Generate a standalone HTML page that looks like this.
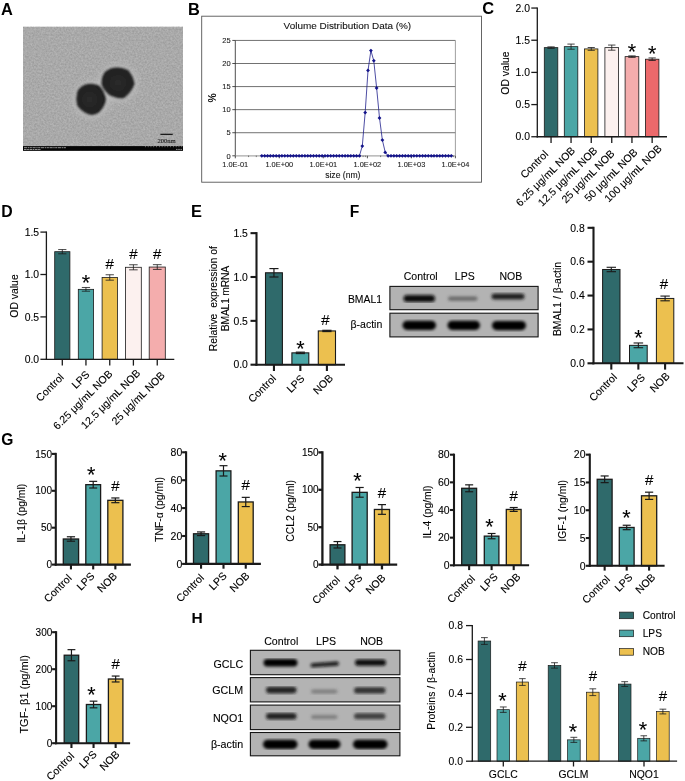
<!DOCTYPE html>
<html lang="en">
<head>
<meta charset="utf-8">
<title>Figure</title>
<style>
html,body{margin:0;padding:0;background:#fff;}
body{width:685px;height:781px;overflow:hidden;}
svg{display:block;font-family:"Liberation Sans", sans-serif;}
</style>
</head>
<body>
<svg width="685" height="781" viewBox="0 0 685 781">
<defs>
<filter id="noise" x="0" y="0" width="100%" height="100%" color-interpolation-filters="sRGB">
<feTurbulence type="fractalNoise" baseFrequency="0.55" numOctaves="2" seed="7" result="n"/>
<feColorMatrix in="n" type="matrix" values="1 0 0 0 0  1 0 0 0 0  1 0 0 0 0  0 0 0 0 1" result="g"/>
<feComposite in="SourceGraphic" in2="g" operator="arithmetic" k1="0" k2="1" k3="0.16" k4="-0.08"/>
</filter>
<filter id="blur1" x="-20%" y="-20%" width="140%" height="140%"><feGaussianBlur stdDeviation="0.9"/></filter>
<radialGradient id="pg1" cx="0.45" cy="0.5" r="0.6"><stop offset="0" stop-color="#2b2b2b"/><stop offset="0.6" stop-color="#222"/><stop offset="1" stop-color="#1b1b1b"/></radialGradient>
<radialGradient id="pg2" cx="0.5" cy="0.5" r="0.6"><stop offset="0" stop-color="#2b2b2b"/><stop offset="0.6" stop-color="#222"/><stop offset="1" stop-color="#1b1b1b"/></radialGradient>
<filter id="blur2" x="-30%" y="-30%" width="160%" height="160%"><feGaussianBlur stdDeviation="3"/></filter>
<filter id="blurband" x="-10%" y="-10%" width="120%" height="120%"><feGaussianBlur stdDeviation="1.35"/></filter>
</defs>
<rect x="0" y="0" width="685" height="781" fill="#ffffff"/>
<text x="1.00" y="14.80" font-size="16.4" text-anchor="start" font-weight="bold" fill="#000">A</text>
<text x="187.90" y="14.60" font-size="16.4" text-anchor="start" font-weight="bold" fill="#000">B</text>
<text x="482.20" y="14.30" font-size="16.4" text-anchor="start" font-weight="bold" fill="#000">C</text>
<text x="1.20" y="217.20" font-size="15.8" text-anchor="start" font-weight="bold" fill="#000">D</text>
<text x="191.00" y="217.00" font-size="16.4" text-anchor="start" font-weight="bold" fill="#000">E</text>
<text x="349.80" y="217.00" font-size="15.6" text-anchor="start" font-weight="bold" fill="#000">F</text>
<text x="1.30" y="444.50" font-size="15.6" text-anchor="start" font-weight="bold" fill="#000">G</text>
<text x="191.40" y="622.50" font-size="15.5" text-anchor="start" font-weight="bold" fill="#000">H</text>
<g id="panelA">
<rect x="23.00" y="26.90" width="160.00" height="123.80" fill="#a9a9a9" filter="url(#noise)"/>
<g filter="url(#blur2)">
<ellipse cx="91.2" cy="99.4" rx="17.5" ry="18" fill="#bdbdbd"/>
<ellipse cx="118" cy="83" rx="19" ry="18" fill="#bdbdbd"/>
</g>
<g filter="url(#blur1)">
<path d="M77,93 Q78,88 84,85 Q92,82.5 99,85.5 Q104,90 106,99 Q105.5,106 99,112.5 Q94,116 89,114.5 Q80,111 77,105 Q75.5,99 77,93 Z" fill="url(#pg1)"/>
<path d="M102,78 Q104,70 112,68 Q120,66.5 128,70 Q133.5,76 134.5,84 Q132,92 124,98 Q118,99 110,95.5 Q103,90 101.5,84 Z" fill="url(#pg2)"/>
</g>
<rect x="23.00" y="146.10" width="160.00" height="4.70" fill="#050505"/>
<line x1="145" y1="146.7" x2="183" y2="146.7" stroke="#ddd" stroke-width="0.7" stroke-dasharray="0.7 2.1"/>
<line x1="160.40" y1="134.30" x2="172.70" y2="134.30" stroke="#000" stroke-width="1.1" stroke-linecap="butt"/>
<text x="166.60" y="142.70" font-size="6.6" text-anchor="middle" font-weight="normal" fill="#1a1a1a" stroke="#1a1a1a" stroke-width="0.1" font-family='"Liberation Serif", serif'>200nm</text>
<line x1="24" y1="147.7" x2="66" y2="147.7" stroke="#cfcfcf" stroke-width="0.7" stroke-dasharray="3.2 0.6 1.4 0.5 2.2 0.6"/>
<line x1="24" y1="149.5" x2="41" y2="149.5" stroke="#cfcfcf" stroke-width="0.7" stroke-dasharray="2.6 0.5 1.8 0.6"/>
<line x1="176" y1="149.4" x2="182" y2="149.4" stroke="#cfcfcf" stroke-width="0.7" stroke-dasharray="1.2 0.4"/>
</g>
<g id="panelB">
<rect x="201.70" y="16.20" width="279.80" height="166.00" fill="#fff" stroke="#555" stroke-width="0.9"/>
<line x1="235.30" y1="132.73" x2="455.40" y2="132.73" stroke="#333" stroke-width="0.7" stroke-linecap="butt"/>
<line x1="235.30" y1="109.65" x2="455.40" y2="109.65" stroke="#333" stroke-width="0.7" stroke-linecap="butt"/>
<line x1="235.30" y1="86.58" x2="455.40" y2="86.58" stroke="#333" stroke-width="0.7" stroke-linecap="butt"/>
<line x1="235.30" y1="63.50" x2="455.40" y2="63.50" stroke="#333" stroke-width="0.7" stroke-linecap="butt"/>
<line x1="235.30" y1="40.43" x2="455.40" y2="40.43" stroke="#333" stroke-width="0.7" stroke-linecap="butt"/>
<line x1="455.40" y1="40.43" x2="455.40" y2="155.80" stroke="#888" stroke-width="0.8" stroke-linecap="butt"/>
<line x1="235.30" y1="40.43" x2="235.30" y2="155.80" stroke="#222" stroke-width="0.8" stroke-linecap="butt"/>
<line x1="235.30" y1="155.80" x2="455.40" y2="155.80" stroke="#a8a8a8" stroke-width="1.3" stroke-linecap="butt"/>
<line x1="248.55" y1="155.60" x2="248.55" y2="157.10" stroke="#333" stroke-width="0.6" stroke-linecap="butt"/>
<line x1="256.30" y1="155.60" x2="256.30" y2="157.10" stroke="#333" stroke-width="0.6" stroke-linecap="butt"/>
<line x1="261.80" y1="155.60" x2="261.80" y2="157.10" stroke="#333" stroke-width="0.6" stroke-linecap="butt"/>
<line x1="266.07" y1="155.60" x2="266.07" y2="157.10" stroke="#333" stroke-width="0.6" stroke-linecap="butt"/>
<line x1="269.55" y1="155.60" x2="269.55" y2="157.10" stroke="#333" stroke-width="0.6" stroke-linecap="butt"/>
<line x1="272.50" y1="155.60" x2="272.50" y2="157.10" stroke="#333" stroke-width="0.6" stroke-linecap="butt"/>
<line x1="275.05" y1="155.60" x2="275.05" y2="157.10" stroke="#333" stroke-width="0.6" stroke-linecap="butt"/>
<line x1="277.31" y1="155.60" x2="277.31" y2="157.10" stroke="#333" stroke-width="0.6" stroke-linecap="butt"/>
<line x1="292.57" y1="155.60" x2="292.57" y2="157.10" stroke="#333" stroke-width="0.6" stroke-linecap="butt"/>
<line x1="300.32" y1="155.60" x2="300.32" y2="157.10" stroke="#333" stroke-width="0.6" stroke-linecap="butt"/>
<line x1="305.82" y1="155.60" x2="305.82" y2="157.10" stroke="#333" stroke-width="0.6" stroke-linecap="butt"/>
<line x1="310.09" y1="155.60" x2="310.09" y2="157.10" stroke="#333" stroke-width="0.6" stroke-linecap="butt"/>
<line x1="313.57" y1="155.60" x2="313.57" y2="157.10" stroke="#333" stroke-width="0.6" stroke-linecap="butt"/>
<line x1="316.52" y1="155.60" x2="316.52" y2="157.10" stroke="#333" stroke-width="0.6" stroke-linecap="butt"/>
<line x1="319.07" y1="155.60" x2="319.07" y2="157.10" stroke="#333" stroke-width="0.6" stroke-linecap="butt"/>
<line x1="321.33" y1="155.60" x2="321.33" y2="157.10" stroke="#333" stroke-width="0.6" stroke-linecap="butt"/>
<line x1="336.59" y1="155.60" x2="336.59" y2="157.10" stroke="#333" stroke-width="0.6" stroke-linecap="butt"/>
<line x1="344.34" y1="155.60" x2="344.34" y2="157.10" stroke="#333" stroke-width="0.6" stroke-linecap="butt"/>
<line x1="349.84" y1="155.60" x2="349.84" y2="157.10" stroke="#333" stroke-width="0.6" stroke-linecap="butt"/>
<line x1="354.11" y1="155.60" x2="354.11" y2="157.10" stroke="#333" stroke-width="0.6" stroke-linecap="butt"/>
<line x1="357.59" y1="155.60" x2="357.59" y2="157.10" stroke="#333" stroke-width="0.6" stroke-linecap="butt"/>
<line x1="360.54" y1="155.60" x2="360.54" y2="157.10" stroke="#333" stroke-width="0.6" stroke-linecap="butt"/>
<line x1="363.09" y1="155.60" x2="363.09" y2="157.10" stroke="#333" stroke-width="0.6" stroke-linecap="butt"/>
<line x1="365.35" y1="155.60" x2="365.35" y2="157.10" stroke="#333" stroke-width="0.6" stroke-linecap="butt"/>
<line x1="380.61" y1="155.60" x2="380.61" y2="157.10" stroke="#333" stroke-width="0.6" stroke-linecap="butt"/>
<line x1="388.36" y1="155.60" x2="388.36" y2="157.10" stroke="#333" stroke-width="0.6" stroke-linecap="butt"/>
<line x1="393.86" y1="155.60" x2="393.86" y2="157.10" stroke="#333" stroke-width="0.6" stroke-linecap="butt"/>
<line x1="398.13" y1="155.60" x2="398.13" y2="157.10" stroke="#333" stroke-width="0.6" stroke-linecap="butt"/>
<line x1="401.61" y1="155.60" x2="401.61" y2="157.10" stroke="#333" stroke-width="0.6" stroke-linecap="butt"/>
<line x1="404.56" y1="155.60" x2="404.56" y2="157.10" stroke="#333" stroke-width="0.6" stroke-linecap="butt"/>
<line x1="407.11" y1="155.60" x2="407.11" y2="157.10" stroke="#333" stroke-width="0.6" stroke-linecap="butt"/>
<line x1="409.37" y1="155.60" x2="409.37" y2="157.10" stroke="#333" stroke-width="0.6" stroke-linecap="butt"/>
<line x1="424.63" y1="155.60" x2="424.63" y2="157.10" stroke="#333" stroke-width="0.6" stroke-linecap="butt"/>
<line x1="432.38" y1="155.60" x2="432.38" y2="157.10" stroke="#333" stroke-width="0.6" stroke-linecap="butt"/>
<line x1="437.88" y1="155.60" x2="437.88" y2="157.10" stroke="#333" stroke-width="0.6" stroke-linecap="butt"/>
<line x1="442.15" y1="155.60" x2="442.15" y2="157.10" stroke="#333" stroke-width="0.6" stroke-linecap="butt"/>
<line x1="445.63" y1="155.60" x2="445.63" y2="157.10" stroke="#333" stroke-width="0.6" stroke-linecap="butt"/>
<line x1="448.58" y1="155.60" x2="448.58" y2="157.10" stroke="#333" stroke-width="0.6" stroke-linecap="butt"/>
<line x1="451.13" y1="155.60" x2="451.13" y2="157.10" stroke="#333" stroke-width="0.6" stroke-linecap="butt"/>
<line x1="453.39" y1="155.60" x2="453.39" y2="157.10" stroke="#333" stroke-width="0.6" stroke-linecap="butt"/>
<line x1="232.30" y1="155.80" x2="235.30" y2="155.80" stroke="#222" stroke-width="0.8" stroke-linecap="butt"/>
<text x="230.70" y="158.50" font-size="7.5" text-anchor="end" font-weight="normal" fill="#222" stroke="#222" stroke-width="0.1">0</text>
<line x1="232.30" y1="132.73" x2="235.30" y2="132.73" stroke="#222" stroke-width="0.8" stroke-linecap="butt"/>
<text x="230.70" y="135.43" font-size="7.5" text-anchor="end" font-weight="normal" fill="#222" stroke="#222" stroke-width="0.1">5</text>
<line x1="232.30" y1="109.65" x2="235.30" y2="109.65" stroke="#222" stroke-width="0.8" stroke-linecap="butt"/>
<text x="230.70" y="112.35" font-size="7.5" text-anchor="end" font-weight="normal" fill="#222" stroke="#222" stroke-width="0.1">10</text>
<line x1="232.30" y1="86.58" x2="235.30" y2="86.58" stroke="#222" stroke-width="0.8" stroke-linecap="butt"/>
<text x="230.70" y="89.28" font-size="7.5" text-anchor="end" font-weight="normal" fill="#222" stroke="#222" stroke-width="0.1">15</text>
<line x1="232.30" y1="63.50" x2="235.30" y2="63.50" stroke="#222" stroke-width="0.8" stroke-linecap="butt"/>
<text x="230.70" y="66.20" font-size="7.5" text-anchor="end" font-weight="normal" fill="#222" stroke="#222" stroke-width="0.1">20</text>
<line x1="232.30" y1="40.43" x2="235.30" y2="40.43" stroke="#222" stroke-width="0.8" stroke-linecap="butt"/>
<text x="230.70" y="43.13" font-size="7.5" text-anchor="end" font-weight="normal" fill="#222" stroke="#222" stroke-width="0.1">25</text>
<line x1="235.30" y1="155.80" x2="235.30" y2="158.30" stroke="#222" stroke-width="0.8" stroke-linecap="butt"/>
<text x="235.30" y="167.40" font-size="7.4" text-anchor="middle" font-weight="normal" fill="#222" stroke="#222" stroke-width="0.1">1.0E-01</text>
<line x1="279.32" y1="155.80" x2="279.32" y2="158.30" stroke="#222" stroke-width="0.8" stroke-linecap="butt"/>
<text x="279.32" y="167.40" font-size="7.4" text-anchor="middle" font-weight="normal" fill="#222" stroke="#222" stroke-width="0.1">1.0E+00</text>
<line x1="323.34" y1="155.80" x2="323.34" y2="158.30" stroke="#222" stroke-width="0.8" stroke-linecap="butt"/>
<text x="323.34" y="167.40" font-size="7.4" text-anchor="middle" font-weight="normal" fill="#222" stroke="#222" stroke-width="0.1">1.0E+01</text>
<line x1="367.36" y1="155.80" x2="367.36" y2="158.30" stroke="#222" stroke-width="0.8" stroke-linecap="butt"/>
<text x="367.36" y="167.40" font-size="7.4" text-anchor="middle" font-weight="normal" fill="#222" stroke="#222" stroke-width="0.1">1.0E+02</text>
<line x1="411.38" y1="155.80" x2="411.38" y2="158.30" stroke="#222" stroke-width="0.8" stroke-linecap="butt"/>
<text x="411.38" y="167.40" font-size="7.4" text-anchor="middle" font-weight="normal" fill="#222" stroke="#222" stroke-width="0.1">1.0E+03</text>
<line x1="455.40" y1="155.80" x2="455.40" y2="158.30" stroke="#222" stroke-width="0.8" stroke-linecap="butt"/>
<text x="455.40" y="167.40" font-size="7.4" text-anchor="middle" font-weight="normal" fill="#222" stroke="#222" stroke-width="0.1">1.0E+04</text>
<text x="347.40" y="28.80" font-size="9.95" text-anchor="middle" font-weight="normal" fill="#111" stroke="#111" stroke-width="0.1">Volume Distribution Data (%)</text>
<text x="342.80" y="178.00" font-size="8.6" text-anchor="middle" font-weight="normal" fill="#111" stroke="#111" stroke-width="0.1">size (nm)</text>
<text x="216.00" y="97.80" font-size="10.3" text-anchor="middle" font-weight="bold" fill="#111" transform="rotate(-90 216.00 97.80)">%</text>
<polyline fill="none" stroke="#20208c" stroke-width="0.8" points="261.84,155.80 264.71,155.80 267.58,155.80 270.45,155.80 273.32,155.80 276.19,155.80 279.06,155.80 281.93,155.80 284.80,155.80 287.67,155.80 290.54,155.80 293.41,155.80 296.28,155.80 299.15,155.80 302.02,155.80 304.89,155.80 307.76,155.80 310.63,155.80 313.50,155.80 316.37,155.80 319.24,155.80 322.11,155.80 324.98,155.80 327.85,155.80 330.72,155.80 333.59,155.80 336.46,155.80 339.33,155.80 342.20,155.80 345.07,155.80 347.94,155.80 350.81,155.80 353.68,155.80 356.55,155.80 359.42,155.80 362.29,146.11 365.16,112.65 368.03,70.42 370.90,50.58 373.77,60.73 376.64,87.96 379.51,117.96 382.38,140.11 385.25,152.38 388.12,155.80 390.99,155.80 393.86,155.80 396.73,155.80 399.60,155.80 402.47,155.80 405.34,155.80 408.21,155.80 411.08,155.80 413.95,155.80 416.82,155.80 419.69,155.80 422.56,155.80 425.43,155.80 428.30,155.80 431.17,155.80 434.04,155.80 436.91,155.80 439.78,155.80 442.65,155.80 445.52,155.80 448.39,155.80 451.26,155.80"/>
<path d="M261.8,153.9l1.9,1.9l-1.9,1.9l-1.9,-1.9z" fill="#14148a"/>
<path d="M264.7,153.9l1.9,1.9l-1.9,1.9l-1.9,-1.9z" fill="#14148a"/>
<path d="M267.6,153.9l1.9,1.9l-1.9,1.9l-1.9,-1.9z" fill="#14148a"/>
<path d="M270.4,153.9l1.9,1.9l-1.9,1.9l-1.9,-1.9z" fill="#14148a"/>
<path d="M273.3,153.9l1.9,1.9l-1.9,1.9l-1.9,-1.9z" fill="#14148a"/>
<path d="M276.2,153.9l1.9,1.9l-1.9,1.9l-1.9,-1.9z" fill="#14148a"/>
<path d="M279.1,153.9l1.9,1.9l-1.9,1.9l-1.9,-1.9z" fill="#14148a"/>
<path d="M281.9,153.9l1.9,1.9l-1.9,1.9l-1.9,-1.9z" fill="#14148a"/>
<path d="M284.8,153.9l1.9,1.9l-1.9,1.9l-1.9,-1.9z" fill="#14148a"/>
<path d="M287.7,153.9l1.9,1.9l-1.9,1.9l-1.9,-1.9z" fill="#14148a"/>
<path d="M290.5,153.9l1.9,1.9l-1.9,1.9l-1.9,-1.9z" fill="#14148a"/>
<path d="M293.4,153.9l1.9,1.9l-1.9,1.9l-1.9,-1.9z" fill="#14148a"/>
<path d="M296.3,153.9l1.9,1.9l-1.9,1.9l-1.9,-1.9z" fill="#14148a"/>
<path d="M299.1,153.9l1.9,1.9l-1.9,1.9l-1.9,-1.9z" fill="#14148a"/>
<path d="M302.0,153.9l1.9,1.9l-1.9,1.9l-1.9,-1.9z" fill="#14148a"/>
<path d="M304.9,153.9l1.9,1.9l-1.9,1.9l-1.9,-1.9z" fill="#14148a"/>
<path d="M307.8,153.9l1.9,1.9l-1.9,1.9l-1.9,-1.9z" fill="#14148a"/>
<path d="M310.6,153.9l1.9,1.9l-1.9,1.9l-1.9,-1.9z" fill="#14148a"/>
<path d="M313.5,153.9l1.9,1.9l-1.9,1.9l-1.9,-1.9z" fill="#14148a"/>
<path d="M316.4,153.9l1.9,1.9l-1.9,1.9l-1.9,-1.9z" fill="#14148a"/>
<path d="M319.2,153.9l1.9,1.9l-1.9,1.9l-1.9,-1.9z" fill="#14148a"/>
<path d="M322.1,153.9l1.9,1.9l-1.9,1.9l-1.9,-1.9z" fill="#14148a"/>
<path d="M325.0,153.9l1.9,1.9l-1.9,1.9l-1.9,-1.9z" fill="#14148a"/>
<path d="M327.8,153.9l1.9,1.9l-1.9,1.9l-1.9,-1.9z" fill="#14148a"/>
<path d="M330.7,153.9l1.9,1.9l-1.9,1.9l-1.9,-1.9z" fill="#14148a"/>
<path d="M333.6,153.9l1.9,1.9l-1.9,1.9l-1.9,-1.9z" fill="#14148a"/>
<path d="M336.5,153.9l1.9,1.9l-1.9,1.9l-1.9,-1.9z" fill="#14148a"/>
<path d="M339.3,153.9l1.9,1.9l-1.9,1.9l-1.9,-1.9z" fill="#14148a"/>
<path d="M342.2,153.9l1.9,1.9l-1.9,1.9l-1.9,-1.9z" fill="#14148a"/>
<path d="M345.1,153.9l1.9,1.9l-1.9,1.9l-1.9,-1.9z" fill="#14148a"/>
<path d="M347.9,153.9l1.9,1.9l-1.9,1.9l-1.9,-1.9z" fill="#14148a"/>
<path d="M350.8,153.9l1.9,1.9l-1.9,1.9l-1.9,-1.9z" fill="#14148a"/>
<path d="M353.7,153.9l1.9,1.9l-1.9,1.9l-1.9,-1.9z" fill="#14148a"/>
<path d="M356.5,153.9l1.9,1.9l-1.9,1.9l-1.9,-1.9z" fill="#14148a"/>
<path d="M359.4,153.9l1.9,1.9l-1.9,1.9l-1.9,-1.9z" fill="#14148a"/>
<path d="M362.3,144.2l1.9,1.9l-1.9,1.9l-1.9,-1.9z" fill="#14148a"/>
<path d="M365.2,110.7l1.9,1.9l-1.9,1.9l-1.9,-1.9z" fill="#14148a"/>
<path d="M368.0,68.5l1.9,1.9l-1.9,1.9l-1.9,-1.9z" fill="#14148a"/>
<path d="M370.9,48.7l1.9,1.9l-1.9,1.9l-1.9,-1.9z" fill="#14148a"/>
<path d="M373.8,58.8l1.9,1.9l-1.9,1.9l-1.9,-1.9z" fill="#14148a"/>
<path d="M376.6,86.1l1.9,1.9l-1.9,1.9l-1.9,-1.9z" fill="#14148a"/>
<path d="M379.5,116.1l1.9,1.9l-1.9,1.9l-1.9,-1.9z" fill="#14148a"/>
<path d="M382.4,138.2l1.9,1.9l-1.9,1.9l-1.9,-1.9z" fill="#14148a"/>
<path d="M385.2,150.5l1.9,1.9l-1.9,1.9l-1.9,-1.9z" fill="#14148a"/>
<path d="M388.1,153.9l1.9,1.9l-1.9,1.9l-1.9,-1.9z" fill="#14148a"/>
<path d="M391.0,153.9l1.9,1.9l-1.9,1.9l-1.9,-1.9z" fill="#14148a"/>
<path d="M393.9,153.9l1.9,1.9l-1.9,1.9l-1.9,-1.9z" fill="#14148a"/>
<path d="M396.7,153.9l1.9,1.9l-1.9,1.9l-1.9,-1.9z" fill="#14148a"/>
<path d="M399.6,153.9l1.9,1.9l-1.9,1.9l-1.9,-1.9z" fill="#14148a"/>
<path d="M402.5,153.9l1.9,1.9l-1.9,1.9l-1.9,-1.9z" fill="#14148a"/>
<path d="M405.3,153.9l1.9,1.9l-1.9,1.9l-1.9,-1.9z" fill="#14148a"/>
<path d="M408.2,153.9l1.9,1.9l-1.9,1.9l-1.9,-1.9z" fill="#14148a"/>
<path d="M411.1,153.9l1.9,1.9l-1.9,1.9l-1.9,-1.9z" fill="#14148a"/>
<path d="M413.9,153.9l1.9,1.9l-1.9,1.9l-1.9,-1.9z" fill="#14148a"/>
<path d="M416.8,153.9l1.9,1.9l-1.9,1.9l-1.9,-1.9z" fill="#14148a"/>
<path d="M419.7,153.9l1.9,1.9l-1.9,1.9l-1.9,-1.9z" fill="#14148a"/>
<path d="M422.6,153.9l1.9,1.9l-1.9,1.9l-1.9,-1.9z" fill="#14148a"/>
<path d="M425.4,153.9l1.9,1.9l-1.9,1.9l-1.9,-1.9z" fill="#14148a"/>
<path d="M428.3,153.9l1.9,1.9l-1.9,1.9l-1.9,-1.9z" fill="#14148a"/>
<path d="M431.2,153.9l1.9,1.9l-1.9,1.9l-1.9,-1.9z" fill="#14148a"/>
<path d="M434.0,153.9l1.9,1.9l-1.9,1.9l-1.9,-1.9z" fill="#14148a"/>
<path d="M436.9,153.9l1.9,1.9l-1.9,1.9l-1.9,-1.9z" fill="#14148a"/>
<path d="M439.8,153.9l1.9,1.9l-1.9,1.9l-1.9,-1.9z" fill="#14148a"/>
<path d="M442.6,153.9l1.9,1.9l-1.9,1.9l-1.9,-1.9z" fill="#14148a"/>
<path d="M445.5,153.9l1.9,1.9l-1.9,1.9l-1.9,-1.9z" fill="#14148a"/>
<path d="M448.4,153.9l1.9,1.9l-1.9,1.9l-1.9,-1.9z" fill="#14148a"/>
<path d="M451.3,153.9l1.9,1.9l-1.9,1.9l-1.9,-1.9z" fill="#14148a"/>
</g>
<g id="panelC">
<rect x="544.30" y="47.63" width="13.50" height="89.12" fill="#2f6a6b" stroke="#1a1a1a" stroke-width="0.8"/>
<line x1="551.05" y1="46.85" x2="551.05" y2="48.40" stroke="#1a1a1a" stroke-width="0.8" stroke-linecap="butt"/>
<line x1="547.40" y1="46.85" x2="554.69" y2="46.85" stroke="#1a1a1a" stroke-width="0.8" stroke-linecap="butt"/>
<line x1="547.40" y1="48.40" x2="554.69" y2="48.40" stroke="#1a1a1a" stroke-width="0.8" stroke-linecap="butt"/>
<rect x="564.30" y="46.66" width="13.50" height="90.09" fill="#4ba6a6" stroke="#1a1a1a" stroke-width="0.8"/>
<line x1="571.05" y1="44.09" x2="571.05" y2="49.23" stroke="#1a1a1a" stroke-width="0.8" stroke-linecap="butt"/>
<line x1="567.40" y1="44.09" x2="574.69" y2="44.09" stroke="#1a1a1a" stroke-width="0.8" stroke-linecap="butt"/>
<line x1="567.40" y1="49.23" x2="574.69" y2="49.23" stroke="#1a1a1a" stroke-width="0.8" stroke-linecap="butt"/>
<rect x="584.60" y="48.91" width="13.30" height="87.84" fill="#ecc04f" stroke="#1a1a1a" stroke-width="0.8"/>
<line x1="591.25" y1="47.50" x2="591.25" y2="50.33" stroke="#1a1a1a" stroke-width="0.8" stroke-linecap="butt"/>
<line x1="587.66" y1="47.50" x2="594.84" y2="47.50" stroke="#1a1a1a" stroke-width="0.8" stroke-linecap="butt"/>
<line x1="587.66" y1="50.33" x2="594.84" y2="50.33" stroke="#1a1a1a" stroke-width="0.8" stroke-linecap="butt"/>
<rect x="604.90" y="47.63" width="13.70" height="89.12" fill="#fcf1ef" stroke="#1a1a1a" stroke-width="0.8"/>
<line x1="611.75" y1="45.05" x2="611.75" y2="50.20" stroke="#1a1a1a" stroke-width="0.8" stroke-linecap="butt"/>
<line x1="608.05" y1="45.05" x2="615.45" y2="45.05" stroke="#1a1a1a" stroke-width="0.8" stroke-linecap="butt"/>
<line x1="608.05" y1="50.20" x2="615.45" y2="50.20" stroke="#1a1a1a" stroke-width="0.8" stroke-linecap="butt"/>
<rect x="625.10" y="56.63" width="13.70" height="80.12" fill="#f4adad" stroke="#1a1a1a" stroke-width="0.8"/>
<line x1="631.95" y1="55.86" x2="631.95" y2="57.41" stroke="#1a1a1a" stroke-width="0.8" stroke-linecap="butt"/>
<line x1="628.25" y1="55.86" x2="635.65" y2="55.86" stroke="#1a1a1a" stroke-width="0.8" stroke-linecap="butt"/>
<line x1="628.25" y1="57.41" x2="635.65" y2="57.41" stroke="#1a1a1a" stroke-width="0.8" stroke-linecap="butt"/>
<text x="631.95" y="59.26" font-size="21.5" text-anchor="middle" font-weight="normal" fill="#000" stroke="#000" stroke-width="0.1">*</text>
<rect x="645.40" y="59.21" width="13.50" height="77.54" fill="#ec696b" stroke="#1a1a1a" stroke-width="0.8"/>
<line x1="652.15" y1="57.92" x2="652.15" y2="60.50" stroke="#1a1a1a" stroke-width="0.8" stroke-linecap="butt"/>
<line x1="648.50" y1="57.92" x2="655.79" y2="57.92" stroke="#1a1a1a" stroke-width="0.8" stroke-linecap="butt"/>
<line x1="648.50" y1="60.50" x2="655.79" y2="60.50" stroke="#1a1a1a" stroke-width="0.8" stroke-linecap="butt"/>
<text x="652.15" y="61.32" font-size="21.5" text-anchor="middle" font-weight="normal" fill="#000" stroke="#000" stroke-width="0.1">*</text>
<line x1="537.30" y1="7.40" x2="537.30" y2="137.40" stroke="#1a1a1a" stroke-width="1.3" stroke-linecap="butt"/>
<line x1="536.65" y1="136.75" x2="667.00" y2="136.75" stroke="#1a1a1a" stroke-width="1.3" stroke-linecap="butt"/>
<line x1="531.30" y1="136.75" x2="537.30" y2="136.75" stroke="#1a1a1a" stroke-width="1.3" stroke-linecap="butt"/>
<text x="530.00" y="140.49" font-size="10.4" text-anchor="end" font-weight="normal" fill="#000" stroke="#000" stroke-width="0.1">0.0</text>
<line x1="531.30" y1="104.58" x2="537.30" y2="104.58" stroke="#1a1a1a" stroke-width="1.3" stroke-linecap="butt"/>
<text x="530.00" y="108.32" font-size="10.4" text-anchor="end" font-weight="normal" fill="#000" stroke="#000" stroke-width="0.1">0.5</text>
<line x1="531.30" y1="72.40" x2="537.30" y2="72.40" stroke="#1a1a1a" stroke-width="1.3" stroke-linecap="butt"/>
<text x="530.00" y="76.14" font-size="10.4" text-anchor="end" font-weight="normal" fill="#000" stroke="#000" stroke-width="0.1">1.0</text>
<line x1="531.30" y1="40.23" x2="537.30" y2="40.23" stroke="#1a1a1a" stroke-width="1.3" stroke-linecap="butt"/>
<text x="530.00" y="43.97" font-size="10.4" text-anchor="end" font-weight="normal" fill="#000" stroke="#000" stroke-width="0.1">1.5</text>
<line x1="531.30" y1="8.05" x2="537.30" y2="8.05" stroke="#1a1a1a" stroke-width="1.3" stroke-linecap="butt"/>
<text x="530.00" y="11.79" font-size="10.4" text-anchor="end" font-weight="normal" fill="#000" stroke="#000" stroke-width="0.1">2.0</text>
<line x1="551.05" y1="136.75" x2="551.05" y2="143.05" stroke="#1a1a1a" stroke-width="1.3" stroke-linecap="butt"/>
<text x="548.85" y="154.95" font-size="10.6" text-anchor="end" font-weight="normal" fill="#000" stroke="#000" stroke-width="0.1" transform="rotate(-45 548.85 154.95)">Control</text>
<line x1="571.05" y1="136.75" x2="571.05" y2="143.05" stroke="#1a1a1a" stroke-width="1.3" stroke-linecap="butt"/>
<text x="575.85" y="151.25" font-size="10.6" text-anchor="end" font-weight="normal" fill="#000" stroke="#000" stroke-width="0.1" transform="rotate(-45 575.85 151.25)">6.25 μg/mL NOB</text>
<line x1="591.25" y1="136.75" x2="591.25" y2="143.05" stroke="#1a1a1a" stroke-width="1.3" stroke-linecap="butt"/>
<text x="598.05" y="151.25" font-size="10.6" text-anchor="end" font-weight="normal" fill="#000" stroke="#000" stroke-width="0.1" transform="rotate(-45 598.05 151.25)">12.5 μg/mL NOB</text>
<line x1="611.75" y1="136.75" x2="611.75" y2="143.05" stroke="#1a1a1a" stroke-width="1.3" stroke-linecap="butt"/>
<text x="615.35" y="154.25" font-size="10.6" text-anchor="end" font-weight="normal" fill="#000" stroke="#000" stroke-width="0.1" transform="rotate(-45 615.35 154.25)">25 μg/mL NOB</text>
<line x1="631.95" y1="136.75" x2="631.95" y2="143.05" stroke="#1a1a1a" stroke-width="1.3" stroke-linecap="butt"/>
<text x="638.15" y="152.95" font-size="10.6" text-anchor="end" font-weight="normal" fill="#000" stroke="#000" stroke-width="0.1" transform="rotate(-45 638.15 152.95)">50 μg/mL NOB</text>
<line x1="652.15" y1="136.75" x2="652.15" y2="143.05" stroke="#1a1a1a" stroke-width="1.3" stroke-linecap="butt"/>
<text x="662.45" y="149.25" font-size="10.6" text-anchor="end" font-weight="normal" fill="#000" stroke="#000" stroke-width="0.1" transform="rotate(-45 662.45 149.25)">100 μg/mL NOB</text>
<text x="508.50" y="73.00" font-size="10.4" text-anchor="middle" font-weight="normal" fill="#000" stroke="#000" stroke-width="0.1" transform="rotate(-90 508.50 73.00)">OD value</text>
</g>
<g id="panelD">
<rect x="54.70" y="251.69" width="15.20" height="107.61" fill="#2f6a6b" stroke="#1a1a1a" stroke-width="0.8"/>
<line x1="62.30" y1="249.57" x2="62.30" y2="253.81" stroke="#1a1a1a" stroke-width="0.8" stroke-linecap="butt"/>
<line x1="58.20" y1="249.57" x2="66.40" y2="249.57" stroke="#1a1a1a" stroke-width="0.8" stroke-linecap="butt"/>
<line x1="58.20" y1="253.81" x2="66.40" y2="253.81" stroke="#1a1a1a" stroke-width="0.8" stroke-linecap="butt"/>
<rect x="78.30" y="289.34" width="15.30" height="69.96" fill="#4ba6a6" stroke="#1a1a1a" stroke-width="0.8"/>
<line x1="85.95" y1="287.47" x2="85.95" y2="291.21" stroke="#1a1a1a" stroke-width="0.8" stroke-linecap="butt"/>
<line x1="81.82" y1="287.47" x2="90.08" y2="287.47" stroke="#1a1a1a" stroke-width="0.8" stroke-linecap="butt"/>
<line x1="81.82" y1="291.21" x2="90.08" y2="291.21" stroke="#1a1a1a" stroke-width="0.8" stroke-linecap="butt"/>
<text x="85.95" y="290.17" font-size="21.5" text-anchor="middle" font-weight="normal" fill="#000" stroke="#000" stroke-width="0.1">*</text>
<rect x="102.10" y="277.47" width="15.30" height="81.83" fill="#ecc04f" stroke="#1a1a1a" stroke-width="0.8"/>
<line x1="109.75" y1="274.75" x2="109.75" y2="280.18" stroke="#1a1a1a" stroke-width="0.8" stroke-linecap="butt"/>
<line x1="105.62" y1="274.75" x2="113.88" y2="274.75" stroke="#1a1a1a" stroke-width="0.8" stroke-linecap="butt"/>
<line x1="105.62" y1="280.18" x2="113.88" y2="280.18" stroke="#1a1a1a" stroke-width="0.8" stroke-linecap="butt"/>
<text x="109.75" y="268.95" font-size="15" text-anchor="middle" font-weight="normal" fill="#000" stroke="#000" stroke-width="0.1">#</text>
<rect x="125.50" y="267.29" width="15.80" height="92.01" fill="#fcf1ef" stroke="#1a1a1a" stroke-width="0.8"/>
<line x1="133.40" y1="264.75" x2="133.40" y2="269.84" stroke="#1a1a1a" stroke-width="0.8" stroke-linecap="butt"/>
<line x1="129.13" y1="264.75" x2="137.67" y2="264.75" stroke="#1a1a1a" stroke-width="0.8" stroke-linecap="butt"/>
<line x1="129.13" y1="269.84" x2="137.67" y2="269.84" stroke="#1a1a1a" stroke-width="0.8" stroke-linecap="butt"/>
<text x="133.40" y="258.95" font-size="15" text-anchor="middle" font-weight="normal" fill="#000" stroke="#000" stroke-width="0.1">#</text>
<rect x="149.20" y="267.04" width="16.10" height="92.26" fill="#f4adad" stroke="#1a1a1a" stroke-width="0.8"/>
<line x1="157.25" y1="264.66" x2="157.25" y2="269.41" stroke="#1a1a1a" stroke-width="0.8" stroke-linecap="butt"/>
<line x1="152.90" y1="264.66" x2="161.60" y2="264.66" stroke="#1a1a1a" stroke-width="0.8" stroke-linecap="butt"/>
<line x1="152.90" y1="269.41" x2="161.60" y2="269.41" stroke="#1a1a1a" stroke-width="0.8" stroke-linecap="butt"/>
<text x="157.25" y="258.86" font-size="15" text-anchor="middle" font-weight="normal" fill="#000" stroke="#000" stroke-width="0.1">#</text>
<line x1="46.40" y1="231.45" x2="46.40" y2="359.95" stroke="#1a1a1a" stroke-width="1.3" stroke-linecap="butt"/>
<line x1="45.75" y1="359.30" x2="174.30" y2="359.30" stroke="#1a1a1a" stroke-width="1.3" stroke-linecap="butt"/>
<line x1="40.40" y1="359.30" x2="46.40" y2="359.30" stroke="#1a1a1a" stroke-width="1.3" stroke-linecap="butt"/>
<text x="39.10" y="363.04" font-size="10.4" text-anchor="end" font-weight="normal" fill="#000" stroke="#000" stroke-width="0.1">0.0</text>
<line x1="40.40" y1="316.90" x2="46.40" y2="316.90" stroke="#1a1a1a" stroke-width="1.3" stroke-linecap="butt"/>
<text x="39.10" y="320.64" font-size="10.4" text-anchor="end" font-weight="normal" fill="#000" stroke="#000" stroke-width="0.1">0.5</text>
<line x1="40.40" y1="274.50" x2="46.40" y2="274.50" stroke="#1a1a1a" stroke-width="1.3" stroke-linecap="butt"/>
<text x="39.10" y="278.24" font-size="10.4" text-anchor="end" font-weight="normal" fill="#000" stroke="#000" stroke-width="0.1">1.0</text>
<line x1="40.40" y1="232.10" x2="46.40" y2="232.10" stroke="#1a1a1a" stroke-width="1.3" stroke-linecap="butt"/>
<text x="39.10" y="235.84" font-size="10.4" text-anchor="end" font-weight="normal" fill="#000" stroke="#000" stroke-width="0.1">1.5</text>
<line x1="62.30" y1="359.30" x2="62.30" y2="365.60" stroke="#1a1a1a" stroke-width="1.3" stroke-linecap="butt"/>
<text x="64.50" y="378.00" font-size="10.6" text-anchor="end" font-weight="normal" fill="#000" stroke="#000" stroke-width="0.1" transform="rotate(-45 64.50 378.00)">Control</text>
<line x1="85.95" y1="359.30" x2="85.95" y2="365.60" stroke="#1a1a1a" stroke-width="1.3" stroke-linecap="butt"/>
<text x="90.25" y="375.20" font-size="10.6" text-anchor="end" font-weight="normal" fill="#000" stroke="#000" stroke-width="0.1" transform="rotate(-45 90.25 375.20)">LPS</text>
<line x1="109.75" y1="359.30" x2="109.75" y2="365.60" stroke="#1a1a1a" stroke-width="1.3" stroke-linecap="butt"/>
<text x="113.15" y="374.50" font-size="10.6" text-anchor="end" font-weight="normal" fill="#000" stroke="#000" stroke-width="0.1" transform="rotate(-45 113.15 374.50)">6.25 μg/mL NOB</text>
<line x1="133.40" y1="359.30" x2="133.40" y2="365.60" stroke="#1a1a1a" stroke-width="1.3" stroke-linecap="butt"/>
<text x="141.00" y="373.80" font-size="10.6" text-anchor="end" font-weight="normal" fill="#000" stroke="#000" stroke-width="0.1" transform="rotate(-45 141.00 373.80)">12.5 μg/mL NOB</text>
<line x1="157.25" y1="359.30" x2="157.25" y2="365.60" stroke="#1a1a1a" stroke-width="1.3" stroke-linecap="butt"/>
<text x="165.55" y="376.10" font-size="10.6" text-anchor="end" font-weight="normal" fill="#000" stroke="#000" stroke-width="0.1" transform="rotate(-45 165.55 376.10)">25 μg/mL NOB</text>
<text x="17.50" y="296.00" font-size="10.4" text-anchor="middle" font-weight="normal" fill="#000" stroke="#000" stroke-width="0.1" transform="rotate(-90 17.50 296.00)">OD value</text>
</g>
<g id="panelE">
<rect x="265.50" y="272.79" width="16.90" height="91.91" fill="#2f6a6b" stroke="#1a1a1a" stroke-width="1.1"/>
<line x1="273.95" y1="268.58" x2="273.95" y2="277.00" stroke="#1a1a1a" stroke-width="1.2" stroke-linecap="butt"/>
<line x1="269.39" y1="268.58" x2="278.51" y2="268.58" stroke="#1a1a1a" stroke-width="1.2" stroke-linecap="butt"/>
<line x1="269.39" y1="277.00" x2="278.51" y2="277.00" stroke="#1a1a1a" stroke-width="1.2" stroke-linecap="butt"/>
<rect x="291.90" y="352.86" width="16.90" height="11.84" fill="#4ba6a6" stroke="#1a1a1a" stroke-width="1.1"/>
<line x1="300.35" y1="352.16" x2="300.35" y2="353.56" stroke="#1a1a1a" stroke-width="1.2" stroke-linecap="butt"/>
<line x1="295.79" y1="352.16" x2="304.91" y2="352.16" stroke="#1a1a1a" stroke-width="1.2" stroke-linecap="butt"/>
<line x1="295.79" y1="353.56" x2="304.91" y2="353.56" stroke="#1a1a1a" stroke-width="1.2" stroke-linecap="butt"/>
<text x="300.35" y="355.56" font-size="21.5" text-anchor="middle" font-weight="normal" fill="#000" stroke="#000" stroke-width="0.1">*</text>
<rect x="318.30" y="330.94" width="17.20" height="33.76" fill="#ecc04f" stroke="#1a1a1a" stroke-width="1.1"/>
<line x1="326.90" y1="330.32" x2="326.90" y2="331.55" stroke="#1a1a1a" stroke-width="1.2" stroke-linecap="butt"/>
<line x1="322.26" y1="330.32" x2="331.54" y2="330.32" stroke="#1a1a1a" stroke-width="1.2" stroke-linecap="butt"/>
<line x1="322.26" y1="331.55" x2="331.54" y2="331.55" stroke="#1a1a1a" stroke-width="1.2" stroke-linecap="butt"/>
<text x="325.30" y="324.52" font-size="15" text-anchor="middle" font-weight="normal" fill="#000" stroke="#000" stroke-width="0.1">#</text>
<line x1="256.50" y1="232.10" x2="256.50" y2="365.75" stroke="#1a1a1a" stroke-width="2.1" stroke-linecap="butt"/>
<line x1="255.45" y1="364.70" x2="345.00" y2="364.70" stroke="#1a1a1a" stroke-width="2.1" stroke-linecap="butt"/>
<line x1="250.50" y1="364.70" x2="256.50" y2="364.70" stroke="#1a1a1a" stroke-width="2.1" stroke-linecap="butt"/>
<text x="247.90" y="368.44" font-size="10.4" text-anchor="end" font-weight="normal" fill="#000" stroke="#000" stroke-width="0.1">0.0</text>
<line x1="250.50" y1="320.85" x2="256.50" y2="320.85" stroke="#1a1a1a" stroke-width="2.1" stroke-linecap="butt"/>
<text x="247.90" y="324.59" font-size="10.4" text-anchor="end" font-weight="normal" fill="#000" stroke="#000" stroke-width="0.1">0.5</text>
<line x1="250.50" y1="277.00" x2="256.50" y2="277.00" stroke="#1a1a1a" stroke-width="2.1" stroke-linecap="butt"/>
<text x="247.90" y="280.74" font-size="10.4" text-anchor="end" font-weight="normal" fill="#000" stroke="#000" stroke-width="0.1">1.0</text>
<line x1="250.50" y1="233.15" x2="256.50" y2="233.15" stroke="#1a1a1a" stroke-width="2.1" stroke-linecap="butt"/>
<text x="247.90" y="236.89" font-size="10.4" text-anchor="end" font-weight="normal" fill="#000" stroke="#000" stroke-width="0.1">1.5</text>
<line x1="273.95" y1="364.70" x2="273.95" y2="371.00" stroke="#1a1a1a" stroke-width="2.1" stroke-linecap="butt"/>
<text x="276.75" y="379.20" font-size="10.6" text-anchor="end" font-weight="normal" fill="#000" stroke="#000" stroke-width="0.1" transform="rotate(-45 276.75 379.20)">Control</text>
<line x1="300.35" y1="364.70" x2="300.35" y2="371.00" stroke="#1a1a1a" stroke-width="2.1" stroke-linecap="butt"/>
<text x="305.15" y="379.20" font-size="10.6" text-anchor="end" font-weight="normal" fill="#000" stroke="#000" stroke-width="0.1" transform="rotate(-45 305.15 379.20)">LPS</text>
<line x1="326.90" y1="364.70" x2="326.90" y2="371.00" stroke="#1a1a1a" stroke-width="2.1" stroke-linecap="butt"/>
<text x="333.70" y="378.70" font-size="10.6" text-anchor="end" font-weight="normal" fill="#000" stroke="#000" stroke-width="0.1" transform="rotate(-45 333.70 378.70)">NOB</text>
<text x="216.90" y="298.60" font-size="10.4" text-anchor="middle" font-weight="normal" fill="#000" stroke="#000" stroke-width="0.1" transform="rotate(-90 216.90 298.60)">Relative &#160;expression of</text>
<text x="228.70" y="298.60" font-size="10.4" text-anchor="middle" font-weight="normal" fill="#000" stroke="#000" stroke-width="0.1" transform="rotate(-90 228.70 298.60)" letter-spacing="-0.25">BMAL1 mRNA</text>
</g>
<g id="panelF">
<rect x="389.90" y="286.40" width="148.20" height="23.30" fill="#b3b3b3" stroke="#151515" stroke-width="1.1"/>
<g filter="url(#blurband)">
<rect x="403.5" y="295.0" width="31.5" height="7.0" rx="3.5" fill="#0a0a0a" opacity="1"/>
<rect x="448.0" y="296.6" width="29.5" height="4.2" rx="2.1" fill="#3a3a3a" opacity="0.62"/>
<rect x="491.5" y="293.6" width="33.0" height="6.0" rx="3.0" fill="#161616" opacity="0.95"/>
</g>
<rect x="389.90" y="313.20" width="148.20" height="23.70" fill="#b3b3b3" stroke="#151515" stroke-width="1.1"/>
<g filter="url(#blurband)">
<rect x="402.5" y="320.7" width="33.5" height="9.2" rx="4.6" fill="#050505" opacity="1"/>
<rect x="447.5" y="320.7" width="32.5" height="9.2" rx="4.6" fill="#050505" opacity="1"/>
<rect x="492.0" y="321.0" width="34.0" height="9.2" rx="4.6" fill="#050505" opacity="1"/>
</g>
<text x="420.70" y="280.40" font-size="10.5" text-anchor="middle" font-weight="normal" fill="#000" stroke="#000" stroke-width="0.1">Control</text>
<text x="464.80" y="280.40" font-size="10.5" text-anchor="middle" font-weight="normal" fill="#000" stroke="#000" stroke-width="0.1">LPS</text>
<text x="510.90" y="280.40" font-size="10.5" text-anchor="middle" font-weight="normal" fill="#000" stroke="#000" stroke-width="0.1">NOB</text>
<text x="382.00" y="302.90" font-size="10.4" text-anchor="end" font-weight="normal" fill="#000" stroke="#000" stroke-width="0.1">BMAL1</text>
<text x="382.30" y="328.20" font-size="10.5" text-anchor="end" font-weight="normal" fill="#000" stroke="#000" stroke-width="0.1">β-actin</text>
<rect x="602.60" y="269.48" width="17.40" height="93.82" fill="#2f6a6b" stroke="#1a1a1a" stroke-width="1.0"/>
<line x1="611.30" y1="267.28" x2="611.30" y2="271.68" stroke="#1a1a1a" stroke-width="1.1" stroke-linecap="butt"/>
<line x1="606.60" y1="267.28" x2="616.00" y2="267.28" stroke="#1a1a1a" stroke-width="1.1" stroke-linecap="butt"/>
<line x1="606.60" y1="271.68" x2="616.00" y2="271.68" stroke="#1a1a1a" stroke-width="1.1" stroke-linecap="butt"/>
<rect x="629.50" y="345.35" width="17.70" height="17.95" fill="#4ba6a6" stroke="#1a1a1a" stroke-width="1.0"/>
<line x1="638.35" y1="342.98" x2="638.35" y2="347.72" stroke="#1a1a1a" stroke-width="1.1" stroke-linecap="butt"/>
<line x1="633.57" y1="342.98" x2="643.13" y2="342.98" stroke="#1a1a1a" stroke-width="1.1" stroke-linecap="butt"/>
<line x1="633.57" y1="347.72" x2="643.13" y2="347.72" stroke="#1a1a1a" stroke-width="1.1" stroke-linecap="butt"/>
<text x="638.35" y="345.38" font-size="21.5" text-anchor="middle" font-weight="normal" fill="#000" stroke="#000" stroke-width="0.1">*</text>
<rect x="656.40" y="298.44" width="17.40" height="64.86" fill="#ecc04f" stroke="#1a1a1a" stroke-width="1.0"/>
<line x1="665.10" y1="296.07" x2="665.10" y2="300.81" stroke="#1a1a1a" stroke-width="1.1" stroke-linecap="butt"/>
<line x1="660.40" y1="296.07" x2="669.80" y2="296.07" stroke="#1a1a1a" stroke-width="1.1" stroke-linecap="butt"/>
<line x1="660.40" y1="300.81" x2="669.80" y2="300.81" stroke="#1a1a1a" stroke-width="1.1" stroke-linecap="butt"/>
<text x="663.80" y="288.77" font-size="15" text-anchor="middle" font-weight="normal" fill="#000" stroke="#000" stroke-width="0.1">#</text>
<line x1="593.50" y1="226.77" x2="593.50" y2="364.35" stroke="#1a1a1a" stroke-width="2.1" stroke-linecap="butt"/>
<line x1="592.45" y1="363.30" x2="683.50" y2="363.30" stroke="#1a1a1a" stroke-width="2.1" stroke-linecap="butt"/>
<line x1="587.50" y1="363.30" x2="593.50" y2="363.30" stroke="#1a1a1a" stroke-width="2.1" stroke-linecap="butt"/>
<text x="584.70" y="367.04" font-size="10.4" text-anchor="end" font-weight="normal" fill="#000" stroke="#000" stroke-width="0.1">0.0</text>
<line x1="587.50" y1="329.43" x2="593.50" y2="329.43" stroke="#1a1a1a" stroke-width="2.1" stroke-linecap="butt"/>
<text x="584.70" y="333.17" font-size="10.4" text-anchor="end" font-weight="normal" fill="#000" stroke="#000" stroke-width="0.1">0.2</text>
<line x1="587.50" y1="295.56" x2="593.50" y2="295.56" stroke="#1a1a1a" stroke-width="2.1" stroke-linecap="butt"/>
<text x="584.70" y="299.30" font-size="10.4" text-anchor="end" font-weight="normal" fill="#000" stroke="#000" stroke-width="0.1">0.4</text>
<line x1="587.50" y1="261.69" x2="593.50" y2="261.69" stroke="#1a1a1a" stroke-width="2.1" stroke-linecap="butt"/>
<text x="584.70" y="265.43" font-size="10.4" text-anchor="end" font-weight="normal" fill="#000" stroke="#000" stroke-width="0.1">0.6</text>
<line x1="587.50" y1="227.82" x2="593.50" y2="227.82" stroke="#1a1a1a" stroke-width="2.1" stroke-linecap="butt"/>
<text x="584.70" y="231.56" font-size="10.4" text-anchor="end" font-weight="normal" fill="#000" stroke="#000" stroke-width="0.1">0.8</text>
<line x1="611.30" y1="363.30" x2="611.30" y2="369.60" stroke="#1a1a1a" stroke-width="2.1" stroke-linecap="butt"/>
<text x="617.60" y="377.80" font-size="10.6" text-anchor="end" font-weight="normal" fill="#000" stroke="#000" stroke-width="0.1" transform="rotate(-45 617.60 377.80)">Control</text>
<line x1="638.35" y1="363.30" x2="638.35" y2="369.60" stroke="#1a1a1a" stroke-width="2.1" stroke-linecap="butt"/>
<text x="645.65" y="378.30" font-size="10.6" text-anchor="end" font-weight="normal" fill="#000" stroke="#000" stroke-width="0.1" transform="rotate(-45 645.65 378.30)">LPS</text>
<line x1="665.10" y1="363.30" x2="665.10" y2="369.60" stroke="#1a1a1a" stroke-width="2.1" stroke-linecap="butt"/>
<text x="670.40" y="376.80" font-size="10.6" text-anchor="end" font-weight="normal" fill="#000" stroke="#000" stroke-width="0.1" transform="rotate(-45 670.40 376.80)">NOB</text>
<text x="560.80" y="299.00" font-size="10.4" text-anchor="middle" font-weight="normal" fill="#000" stroke="#000" stroke-width="0.1" transform="rotate(-90 560.80 299.00)">BMAL1 / β-actin</text>
</g>
<g id="panelG">
<rect x="63.30" y="538.99" width="15.30" height="25.61" fill="#2f6a6b" stroke="#1a1a1a" stroke-width="1.3"/>
<line x1="70.95" y1="536.78" x2="70.95" y2="541.21" stroke="#1a1a1a" stroke-width="1.2" stroke-linecap="butt"/>
<line x1="66.82" y1="536.78" x2="75.08" y2="536.78" stroke="#1a1a1a" stroke-width="1.2" stroke-linecap="butt"/>
<line x1="66.82" y1="541.21" x2="75.08" y2="541.21" stroke="#1a1a1a" stroke-width="1.2" stroke-linecap="butt"/>
<rect x="85.80" y="484.67" width="14.80" height="79.93" fill="#4ba6a6" stroke="#1a1a1a" stroke-width="1.3"/>
<line x1="93.20" y1="481.35" x2="93.20" y2="488.00" stroke="#1a1a1a" stroke-width="1.2" stroke-linecap="butt"/>
<line x1="89.20" y1="481.35" x2="97.20" y2="481.35" stroke="#1a1a1a" stroke-width="1.2" stroke-linecap="butt"/>
<line x1="89.20" y1="488.00" x2="97.20" y2="488.00" stroke="#1a1a1a" stroke-width="1.2" stroke-linecap="butt"/>
<text x="91.10" y="482.25" font-size="21.5" text-anchor="middle" font-weight="normal" fill="#000" stroke="#000" stroke-width="0.1">*</text>
<rect x="107.80" y="500.32" width="15.10" height="64.28" fill="#ecc04f" stroke="#1a1a1a" stroke-width="1.3"/>
<line x1="115.35" y1="497.96" x2="115.35" y2="502.68" stroke="#1a1a1a" stroke-width="1.2" stroke-linecap="butt"/>
<line x1="111.27" y1="497.96" x2="119.43" y2="497.96" stroke="#1a1a1a" stroke-width="1.2" stroke-linecap="butt"/>
<line x1="111.27" y1="502.68" x2="119.43" y2="502.68" stroke="#1a1a1a" stroke-width="1.2" stroke-linecap="butt"/>
<text x="115.35" y="490.96" font-size="15" text-anchor="middle" font-weight="normal" fill="#000" stroke="#000" stroke-width="0.1">#</text>
<line x1="55.80" y1="452.85" x2="55.80" y2="565.65" stroke="#1a1a1a" stroke-width="2.1" stroke-linecap="butt"/>
<line x1="54.75" y1="564.60" x2="130.90" y2="564.60" stroke="#1a1a1a" stroke-width="2.1" stroke-linecap="butt"/>
<line x1="51.80" y1="564.60" x2="55.80" y2="564.60" stroke="#1a1a1a" stroke-width="2.1" stroke-linecap="butt"/>
<text x="52.00" y="568.20" font-size="10.0" text-anchor="end" font-weight="normal" fill="#000" stroke="#000" stroke-width="0.1">0</text>
<line x1="51.80" y1="527.70" x2="55.80" y2="527.70" stroke="#1a1a1a" stroke-width="2.1" stroke-linecap="butt"/>
<text x="52.00" y="531.30" font-size="10.0" text-anchor="end" font-weight="normal" fill="#000" stroke="#000" stroke-width="0.1">50</text>
<line x1="51.80" y1="490.80" x2="55.80" y2="490.80" stroke="#1a1a1a" stroke-width="2.1" stroke-linecap="butt"/>
<text x="52.00" y="494.40" font-size="10.0" text-anchor="end" font-weight="normal" fill="#000" stroke="#000" stroke-width="0.1">100</text>
<line x1="51.80" y1="453.90" x2="55.80" y2="453.90" stroke="#1a1a1a" stroke-width="2.1" stroke-linecap="butt"/>
<text x="52.00" y="457.50" font-size="10.0" text-anchor="end" font-weight="normal" fill="#000" stroke="#000" stroke-width="0.1">150</text>
<line x1="70.95" y1="564.60" x2="70.95" y2="569.40" stroke="#1a1a1a" stroke-width="2.1" stroke-linecap="butt"/>
<text x="72.45" y="578.80" font-size="10.6" text-anchor="end" font-weight="normal" fill="#000" stroke="#000" stroke-width="0.1" transform="rotate(-45 72.45 578.80)">Control</text>
<line x1="93.20" y1="564.60" x2="93.20" y2="569.40" stroke="#1a1a1a" stroke-width="2.1" stroke-linecap="butt"/>
<text x="95.20" y="576.80" font-size="10.6" text-anchor="end" font-weight="normal" fill="#000" stroke="#000" stroke-width="0.1" transform="rotate(-45 95.20 576.80)">LPS</text>
<line x1="115.35" y1="564.60" x2="115.35" y2="569.40" stroke="#1a1a1a" stroke-width="2.1" stroke-linecap="butt"/>
<text x="117.85" y="576.80" font-size="10.6" text-anchor="end" font-weight="normal" fill="#000" stroke="#000" stroke-width="0.1" transform="rotate(-45 117.85 576.80)">NOB</text>
<text x="25.20" y="513.30" font-size="10.4" text-anchor="middle" font-weight="normal" fill="#000" stroke="#000" stroke-width="0.1" transform="rotate(-90 25.20 513.30)">IL-1β (pg/ml)</text>
<rect x="193.50" y="533.77" width="15.10" height="30.13" fill="#2f6a6b" stroke="#1a1a1a" stroke-width="1.3"/>
<line x1="201.05" y1="531.95" x2="201.05" y2="535.58" stroke="#1a1a1a" stroke-width="1.2" stroke-linecap="butt"/>
<line x1="196.97" y1="531.95" x2="205.13" y2="531.95" stroke="#1a1a1a" stroke-width="1.2" stroke-linecap="butt"/>
<line x1="196.97" y1="535.58" x2="205.13" y2="535.58" stroke="#1a1a1a" stroke-width="1.2" stroke-linecap="butt"/>
<rect x="216.10" y="470.85" width="14.80" height="93.05" fill="#4ba6a6" stroke="#1a1a1a" stroke-width="1.3"/>
<line x1="223.50" y1="465.69" x2="223.50" y2="476.01" stroke="#1a1a1a" stroke-width="1.2" stroke-linecap="butt"/>
<line x1="219.50" y1="465.69" x2="227.50" y2="465.69" stroke="#1a1a1a" stroke-width="1.2" stroke-linecap="butt"/>
<line x1="219.50" y1="476.01" x2="227.50" y2="476.01" stroke="#1a1a1a" stroke-width="1.2" stroke-linecap="butt"/>
<text x="222.60" y="467.99" font-size="21.5" text-anchor="middle" font-weight="normal" fill="#000" stroke="#000" stroke-width="0.1">*</text>
<rect x="238.30" y="501.96" width="14.90" height="61.94" fill="#ecc04f" stroke="#1a1a1a" stroke-width="1.3"/>
<line x1="245.75" y1="497.36" x2="245.75" y2="506.57" stroke="#1a1a1a" stroke-width="1.2" stroke-linecap="butt"/>
<line x1="241.73" y1="497.36" x2="249.77" y2="497.36" stroke="#1a1a1a" stroke-width="1.2" stroke-linecap="butt"/>
<line x1="241.73" y1="506.57" x2="249.77" y2="506.57" stroke="#1a1a1a" stroke-width="1.2" stroke-linecap="butt"/>
<text x="245.75" y="490.36" font-size="15" text-anchor="middle" font-weight="normal" fill="#000" stroke="#000" stroke-width="0.1">#</text>
<line x1="186.10" y1="451.25" x2="186.10" y2="564.95" stroke="#1a1a1a" stroke-width="2.1" stroke-linecap="butt"/>
<line x1="185.05" y1="563.90" x2="260.90" y2="563.90" stroke="#1a1a1a" stroke-width="2.1" stroke-linecap="butt"/>
<line x1="182.10" y1="563.90" x2="186.10" y2="563.90" stroke="#1a1a1a" stroke-width="2.1" stroke-linecap="butt"/>
<text x="182.30" y="567.68" font-size="10.5" text-anchor="end" font-weight="normal" fill="#000" stroke="#000" stroke-width="0.1">0</text>
<line x1="182.10" y1="536.00" x2="186.10" y2="536.00" stroke="#1a1a1a" stroke-width="2.1" stroke-linecap="butt"/>
<text x="182.30" y="539.78" font-size="10.5" text-anchor="end" font-weight="normal" fill="#000" stroke="#000" stroke-width="0.1">20</text>
<line x1="182.10" y1="508.10" x2="186.10" y2="508.10" stroke="#1a1a1a" stroke-width="2.1" stroke-linecap="butt"/>
<text x="182.30" y="511.88" font-size="10.5" text-anchor="end" font-weight="normal" fill="#000" stroke="#000" stroke-width="0.1">40</text>
<line x1="182.10" y1="480.20" x2="186.10" y2="480.20" stroke="#1a1a1a" stroke-width="2.1" stroke-linecap="butt"/>
<text x="182.30" y="483.98" font-size="10.5" text-anchor="end" font-weight="normal" fill="#000" stroke="#000" stroke-width="0.1">60</text>
<line x1="182.10" y1="452.30" x2="186.10" y2="452.30" stroke="#1a1a1a" stroke-width="2.1" stroke-linecap="butt"/>
<text x="182.30" y="456.08" font-size="10.5" text-anchor="end" font-weight="normal" fill="#000" stroke="#000" stroke-width="0.1">80</text>
<line x1="201.05" y1="563.90" x2="201.05" y2="568.70" stroke="#1a1a1a" stroke-width="2.1" stroke-linecap="butt"/>
<text x="204.55" y="578.50" font-size="10.6" text-anchor="end" font-weight="normal" fill="#000" stroke="#000" stroke-width="0.1" transform="rotate(-45 204.55 578.50)">Control</text>
<line x1="223.50" y1="563.90" x2="223.50" y2="568.70" stroke="#1a1a1a" stroke-width="2.1" stroke-linecap="butt"/>
<text x="227.50" y="576.50" font-size="10.6" text-anchor="end" font-weight="normal" fill="#000" stroke="#000" stroke-width="0.1" transform="rotate(-45 227.50 576.50)">LPS</text>
<line x1="245.75" y1="563.90" x2="245.75" y2="568.70" stroke="#1a1a1a" stroke-width="2.1" stroke-linecap="butt"/>
<text x="250.25" y="576.50" font-size="10.6" text-anchor="end" font-weight="normal" fill="#000" stroke="#000" stroke-width="0.1" transform="rotate(-45 250.25 576.50)">NOB</text>
<text x="163.30" y="509.50" font-size="10.4" text-anchor="middle" font-weight="normal" fill="#000" stroke="#000" stroke-width="0.1" transform="rotate(-90 163.30 509.50)">TNF-α (pg/ml)</text>
<rect x="330.10" y="544.78" width="14.80" height="19.82" fill="#2f6a6b" stroke="#1a1a1a" stroke-width="1.3"/>
<line x1="337.50" y1="541.56" x2="337.50" y2="547.99" stroke="#1a1a1a" stroke-width="1.2" stroke-linecap="butt"/>
<line x1="333.50" y1="541.56" x2="341.50" y2="541.56" stroke="#1a1a1a" stroke-width="1.2" stroke-linecap="butt"/>
<line x1="333.50" y1="547.99" x2="341.50" y2="547.99" stroke="#1a1a1a" stroke-width="1.2" stroke-linecap="butt"/>
<rect x="352.10" y="492.34" width="15.10" height="72.26" fill="#4ba6a6" stroke="#1a1a1a" stroke-width="1.3"/>
<line x1="359.65" y1="487.48" x2="359.65" y2="497.21" stroke="#1a1a1a" stroke-width="1.2" stroke-linecap="butt"/>
<line x1="355.57" y1="487.48" x2="363.73" y2="487.48" stroke="#1a1a1a" stroke-width="1.2" stroke-linecap="butt"/>
<line x1="355.57" y1="497.21" x2="363.73" y2="497.21" stroke="#1a1a1a" stroke-width="1.2" stroke-linecap="butt"/>
<text x="357.55" y="488.38" font-size="21.5" text-anchor="middle" font-weight="normal" fill="#000" stroke="#000" stroke-width="0.1">*</text>
<rect x="374.40" y="509.47" width="15.10" height="55.13" fill="#ecc04f" stroke="#1a1a1a" stroke-width="1.3"/>
<line x1="381.95" y1="504.61" x2="381.95" y2="514.33" stroke="#1a1a1a" stroke-width="1.2" stroke-linecap="butt"/>
<line x1="377.87" y1="504.61" x2="386.03" y2="504.61" stroke="#1a1a1a" stroke-width="1.2" stroke-linecap="butt"/>
<line x1="377.87" y1="514.33" x2="386.03" y2="514.33" stroke="#1a1a1a" stroke-width="1.2" stroke-linecap="butt"/>
<text x="381.95" y="497.61" font-size="15" text-anchor="middle" font-weight="normal" fill="#000" stroke="#000" stroke-width="0.1">#</text>
<line x1="322.40" y1="451.25" x2="322.40" y2="565.75" stroke="#1a1a1a" stroke-width="2.3" stroke-linecap="butt"/>
<line x1="321.25" y1="564.60" x2="397.20" y2="564.60" stroke="#1a1a1a" stroke-width="2.3" stroke-linecap="butt"/>
<line x1="318.40" y1="564.60" x2="322.40" y2="564.60" stroke="#1a1a1a" stroke-width="2.3" stroke-linecap="butt"/>
<text x="318.60" y="568.20" font-size="10.0" text-anchor="end" font-weight="normal" fill="#000" stroke="#000" stroke-width="0.1">0</text>
<line x1="318.40" y1="527.20" x2="322.40" y2="527.20" stroke="#1a1a1a" stroke-width="2.3" stroke-linecap="butt"/>
<text x="318.60" y="530.80" font-size="10.0" text-anchor="end" font-weight="normal" fill="#000" stroke="#000" stroke-width="0.1">50</text>
<line x1="318.40" y1="489.80" x2="322.40" y2="489.80" stroke="#1a1a1a" stroke-width="2.3" stroke-linecap="butt"/>
<text x="318.60" y="493.40" font-size="10.0" text-anchor="end" font-weight="normal" fill="#000" stroke="#000" stroke-width="0.1">100</text>
<line x1="318.40" y1="452.40" x2="322.40" y2="452.40" stroke="#1a1a1a" stroke-width="2.3" stroke-linecap="butt"/>
<text x="318.60" y="456.00" font-size="10.0" text-anchor="end" font-weight="normal" fill="#000" stroke="#000" stroke-width="0.1">150</text>
<line x1="337.50" y1="564.60" x2="337.50" y2="569.40" stroke="#1a1a1a" stroke-width="2.3" stroke-linecap="butt"/>
<text x="340.70" y="580.60" font-size="10.6" text-anchor="end" font-weight="normal" fill="#000" stroke="#000" stroke-width="0.1" transform="rotate(-45 340.70 580.60)">Control</text>
<line x1="359.65" y1="564.60" x2="359.65" y2="569.40" stroke="#1a1a1a" stroke-width="2.3" stroke-linecap="butt"/>
<text x="363.35" y="578.60" font-size="10.6" text-anchor="end" font-weight="normal" fill="#000" stroke="#000" stroke-width="0.1" transform="rotate(-45 363.35 578.60)">LPS</text>
<line x1="381.95" y1="564.60" x2="381.95" y2="569.40" stroke="#1a1a1a" stroke-width="2.3" stroke-linecap="butt"/>
<text x="386.15" y="578.60" font-size="10.6" text-anchor="end" font-weight="normal" fill="#000" stroke="#000" stroke-width="0.1" transform="rotate(-45 386.15 578.60)">NOB</text>
<text x="294.40" y="510.80" font-size="10.4" text-anchor="middle" font-weight="normal" fill="#000" stroke="#000" stroke-width="0.1" transform="rotate(-90 294.40 510.80)">CCL2 (pg/ml)</text>
<rect x="461.70" y="488.29" width="14.90" height="77.01" fill="#2f6a6b" stroke="#1a1a1a" stroke-width="1.3"/>
<line x1="469.15" y1="484.84" x2="469.15" y2="491.75" stroke="#1a1a1a" stroke-width="1.2" stroke-linecap="butt"/>
<line x1="465.13" y1="484.84" x2="473.17" y2="484.84" stroke="#1a1a1a" stroke-width="1.2" stroke-linecap="butt"/>
<line x1="465.13" y1="491.75" x2="473.17" y2="491.75" stroke="#1a1a1a" stroke-width="1.2" stroke-linecap="butt"/>
<rect x="484.30" y="536.13" width="14.60" height="29.17" fill="#4ba6a6" stroke="#1a1a1a" stroke-width="1.3"/>
<line x1="491.60" y1="533.50" x2="491.60" y2="538.76" stroke="#1a1a1a" stroke-width="1.2" stroke-linecap="butt"/>
<line x1="487.66" y1="533.50" x2="495.54" y2="533.50" stroke="#1a1a1a" stroke-width="1.2" stroke-linecap="butt"/>
<line x1="487.66" y1="538.76" x2="495.54" y2="538.76" stroke="#1a1a1a" stroke-width="1.2" stroke-linecap="butt"/>
<text x="489.50" y="534.40" font-size="21.5" text-anchor="middle" font-weight="normal" fill="#000" stroke="#000" stroke-width="0.1">*</text>
<rect x="506.30" y="509.45" width="14.80" height="55.85" fill="#ecc04f" stroke="#1a1a1a" stroke-width="1.3"/>
<line x1="513.70" y1="507.51" x2="513.70" y2="511.38" stroke="#1a1a1a" stroke-width="1.2" stroke-linecap="butt"/>
<line x1="509.70" y1="507.51" x2="517.70" y2="507.51" stroke="#1a1a1a" stroke-width="1.2" stroke-linecap="butt"/>
<line x1="509.70" y1="511.38" x2="517.70" y2="511.38" stroke="#1a1a1a" stroke-width="1.2" stroke-linecap="butt"/>
<text x="513.70" y="500.51" font-size="15" text-anchor="middle" font-weight="normal" fill="#000" stroke="#000" stroke-width="0.1">#</text>
<line x1="454.00" y1="453.65" x2="454.00" y2="566.35" stroke="#1a1a1a" stroke-width="2.1" stroke-linecap="butt"/>
<line x1="452.95" y1="565.30" x2="529.10" y2="565.30" stroke="#1a1a1a" stroke-width="2.1" stroke-linecap="butt"/>
<line x1="450.00" y1="565.30" x2="454.00" y2="565.30" stroke="#1a1a1a" stroke-width="2.1" stroke-linecap="butt"/>
<text x="449.70" y="569.08" font-size="10.5" text-anchor="end" font-weight="normal" fill="#000" stroke="#000" stroke-width="0.1">0</text>
<line x1="450.00" y1="537.65" x2="454.00" y2="537.65" stroke="#1a1a1a" stroke-width="2.1" stroke-linecap="butt"/>
<text x="449.70" y="541.43" font-size="10.5" text-anchor="end" font-weight="normal" fill="#000" stroke="#000" stroke-width="0.1">20</text>
<line x1="450.00" y1="510.00" x2="454.00" y2="510.00" stroke="#1a1a1a" stroke-width="2.1" stroke-linecap="butt"/>
<text x="449.70" y="513.78" font-size="10.5" text-anchor="end" font-weight="normal" fill="#000" stroke="#000" stroke-width="0.1">40</text>
<line x1="450.00" y1="482.35" x2="454.00" y2="482.35" stroke="#1a1a1a" stroke-width="2.1" stroke-linecap="butt"/>
<text x="449.70" y="486.13" font-size="10.5" text-anchor="end" font-weight="normal" fill="#000" stroke="#000" stroke-width="0.1">60</text>
<line x1="450.00" y1="454.70" x2="454.00" y2="454.70" stroke="#1a1a1a" stroke-width="2.1" stroke-linecap="butt"/>
<text x="449.70" y="458.48" font-size="10.5" text-anchor="end" font-weight="normal" fill="#000" stroke="#000" stroke-width="0.1">80</text>
<line x1="469.15" y1="565.30" x2="469.15" y2="570.10" stroke="#1a1a1a" stroke-width="2.1" stroke-linecap="butt"/>
<text x="475.65" y="579.50" font-size="10.6" text-anchor="end" font-weight="normal" fill="#000" stroke="#000" stroke-width="0.1" transform="rotate(-45 475.65 579.50)">Control</text>
<line x1="491.60" y1="565.30" x2="491.60" y2="570.10" stroke="#1a1a1a" stroke-width="2.1" stroke-linecap="butt"/>
<text x="498.60" y="577.50" font-size="10.6" text-anchor="end" font-weight="normal" fill="#000" stroke="#000" stroke-width="0.1" transform="rotate(-45 498.60 577.50)">LPS</text>
<line x1="513.70" y1="565.30" x2="513.70" y2="570.10" stroke="#1a1a1a" stroke-width="2.1" stroke-linecap="butt"/>
<text x="521.20" y="577.50" font-size="10.6" text-anchor="end" font-weight="normal" fill="#000" stroke="#000" stroke-width="0.1" transform="rotate(-45 521.20 577.50)">NOB</text>
<text x="430.70" y="512.00" font-size="10.4" text-anchor="middle" font-weight="normal" fill="#000" stroke="#000" stroke-width="0.1" transform="rotate(-90 430.70 512.00)">IL-4 (pg/ml)</text>
<rect x="597.20" y="479.29" width="14.90" height="86.51" fill="#2f6a6b" stroke="#1a1a1a" stroke-width="1.3"/>
<line x1="604.65" y1="475.96" x2="604.65" y2="482.63" stroke="#1a1a1a" stroke-width="1.2" stroke-linecap="butt"/>
<line x1="600.63" y1="475.96" x2="608.67" y2="475.96" stroke="#1a1a1a" stroke-width="1.2" stroke-linecap="butt"/>
<line x1="600.63" y1="482.63" x2="608.67" y2="482.63" stroke="#1a1a1a" stroke-width="1.2" stroke-linecap="butt"/>
<rect x="619.30" y="527.46" width="14.80" height="38.34" fill="#4ba6a6" stroke="#1a1a1a" stroke-width="1.3"/>
<line x1="626.70" y1="525.24" x2="626.70" y2="529.69" stroke="#1a1a1a" stroke-width="1.2" stroke-linecap="butt"/>
<line x1="622.70" y1="525.24" x2="630.70" y2="525.24" stroke="#1a1a1a" stroke-width="1.2" stroke-linecap="butt"/>
<line x1="622.70" y1="529.69" x2="630.70" y2="529.69" stroke="#1a1a1a" stroke-width="1.2" stroke-linecap="butt"/>
<text x="626.40" y="525.34" font-size="21.5" text-anchor="middle" font-weight="normal" fill="#000" stroke="#000" stroke-width="0.1">*</text>
<rect x="641.50" y="495.79" width="15.20" height="70.01" fill="#ecc04f" stroke="#1a1a1a" stroke-width="1.3"/>
<line x1="649.10" y1="492.18" x2="649.10" y2="499.41" stroke="#1a1a1a" stroke-width="1.2" stroke-linecap="butt"/>
<line x1="645.00" y1="492.18" x2="653.20" y2="492.18" stroke="#1a1a1a" stroke-width="1.2" stroke-linecap="butt"/>
<line x1="645.00" y1="499.41" x2="653.20" y2="499.41" stroke="#1a1a1a" stroke-width="1.2" stroke-linecap="butt"/>
<text x="649.10" y="485.18" font-size="15" text-anchor="middle" font-weight="normal" fill="#000" stroke="#000" stroke-width="0.1">#</text>
<line x1="589.80" y1="453.63" x2="589.80" y2="566.85" stroke="#1a1a1a" stroke-width="2.1" stroke-linecap="butt"/>
<line x1="588.75" y1="565.80" x2="664.60" y2="565.80" stroke="#1a1a1a" stroke-width="2.1" stroke-linecap="butt"/>
<line x1="585.80" y1="565.80" x2="589.80" y2="565.80" stroke="#1a1a1a" stroke-width="2.1" stroke-linecap="butt"/>
<text x="585.50" y="569.58" font-size="10.5" text-anchor="end" font-weight="normal" fill="#000" stroke="#000" stroke-width="0.1">0</text>
<line x1="585.80" y1="538.02" x2="589.80" y2="538.02" stroke="#1a1a1a" stroke-width="2.1" stroke-linecap="butt"/>
<text x="585.50" y="541.80" font-size="10.5" text-anchor="end" font-weight="normal" fill="#000" stroke="#000" stroke-width="0.1">5</text>
<line x1="585.80" y1="510.24" x2="589.80" y2="510.24" stroke="#1a1a1a" stroke-width="2.1" stroke-linecap="butt"/>
<text x="585.50" y="514.02" font-size="10.5" text-anchor="end" font-weight="normal" fill="#000" stroke="#000" stroke-width="0.1">10</text>
<line x1="585.80" y1="482.46" x2="589.80" y2="482.46" stroke="#1a1a1a" stroke-width="2.1" stroke-linecap="butt"/>
<text x="585.50" y="486.24" font-size="10.5" text-anchor="end" font-weight="normal" fill="#000" stroke="#000" stroke-width="0.1">15</text>
<line x1="585.80" y1="454.68" x2="589.80" y2="454.68" stroke="#1a1a1a" stroke-width="2.1" stroke-linecap="butt"/>
<text x="585.50" y="458.46" font-size="10.5" text-anchor="end" font-weight="normal" fill="#000" stroke="#000" stroke-width="0.1">20</text>
<line x1="604.65" y1="565.80" x2="604.65" y2="570.60" stroke="#1a1a1a" stroke-width="2.1" stroke-linecap="butt"/>
<text x="610.65" y="580.00" font-size="10.6" text-anchor="end" font-weight="normal" fill="#000" stroke="#000" stroke-width="0.1" transform="rotate(-45 610.65 580.00)">Control</text>
<line x1="626.70" y1="565.80" x2="626.70" y2="570.60" stroke="#1a1a1a" stroke-width="2.1" stroke-linecap="butt"/>
<text x="633.20" y="578.00" font-size="10.6" text-anchor="end" font-weight="normal" fill="#000" stroke="#000" stroke-width="0.1" transform="rotate(-45 633.20 578.00)">LPS</text>
<line x1="649.10" y1="565.80" x2="649.10" y2="570.60" stroke="#1a1a1a" stroke-width="2.1" stroke-linecap="butt"/>
<text x="656.10" y="578.00" font-size="10.6" text-anchor="end" font-weight="normal" fill="#000" stroke="#000" stroke-width="0.1" transform="rotate(-45 656.10 578.00)">NOB</text>
<text x="566.20" y="510.80" font-size="10.4" text-anchor="middle" font-weight="normal" fill="#000" stroke="#000" stroke-width="0.1" transform="rotate(-90 566.20 510.80)">IGF-1 (ng/ml)</text>
<rect x="64.20" y="655.21" width="14.50" height="87.99" fill="#2f6a6b" stroke="#1a1a1a" stroke-width="1.3"/>
<line x1="71.45" y1="649.66" x2="71.45" y2="660.76" stroke="#1a1a1a" stroke-width="1.2" stroke-linecap="butt"/>
<line x1="67.53" y1="649.66" x2="75.37" y2="649.66" stroke="#1a1a1a" stroke-width="1.2" stroke-linecap="butt"/>
<line x1="67.53" y1="660.76" x2="75.37" y2="660.76" stroke="#1a1a1a" stroke-width="1.2" stroke-linecap="butt"/>
<rect x="86.40" y="704.50" width="14.30" height="38.70" fill="#4ba6a6" stroke="#1a1a1a" stroke-width="1.3"/>
<line x1="93.55" y1="701.17" x2="93.55" y2="707.83" stroke="#1a1a1a" stroke-width="1.2" stroke-linecap="butt"/>
<line x1="89.69" y1="701.17" x2="97.41" y2="701.17" stroke="#1a1a1a" stroke-width="1.2" stroke-linecap="butt"/>
<line x1="89.69" y1="707.83" x2="97.41" y2="707.83" stroke="#1a1a1a" stroke-width="1.2" stroke-linecap="butt"/>
<text x="91.45" y="702.07" font-size="21.5" text-anchor="middle" font-weight="normal" fill="#000" stroke="#000" stroke-width="0.1">*</text>
<rect x="108.40" y="679.01" width="14.50" height="64.19" fill="#ecc04f" stroke="#1a1a1a" stroke-width="1.3"/>
<line x1="115.65" y1="676.05" x2="115.65" y2="681.97" stroke="#1a1a1a" stroke-width="1.2" stroke-linecap="butt"/>
<line x1="111.73" y1="676.05" x2="119.57" y2="676.05" stroke="#1a1a1a" stroke-width="1.2" stroke-linecap="butt"/>
<line x1="111.73" y1="681.97" x2="119.57" y2="681.97" stroke="#1a1a1a" stroke-width="1.2" stroke-linecap="butt"/>
<text x="115.65" y="669.05" font-size="15" text-anchor="middle" font-weight="normal" fill="#000" stroke="#000" stroke-width="0.1">#</text>
<line x1="56.10" y1="631.15" x2="56.10" y2="744.25" stroke="#1a1a1a" stroke-width="2.1" stroke-linecap="butt"/>
<line x1="55.05" y1="743.20" x2="130.10" y2="743.20" stroke="#1a1a1a" stroke-width="2.1" stroke-linecap="butt"/>
<line x1="52.10" y1="743.20" x2="56.10" y2="743.20" stroke="#1a1a1a" stroke-width="2.1" stroke-linecap="butt"/>
<text x="52.30" y="746.80" font-size="10.0" text-anchor="end" font-weight="normal" fill="#000" stroke="#000" stroke-width="0.1">0</text>
<line x1="52.10" y1="706.20" x2="56.10" y2="706.20" stroke="#1a1a1a" stroke-width="2.1" stroke-linecap="butt"/>
<text x="52.30" y="709.80" font-size="10.0" text-anchor="end" font-weight="normal" fill="#000" stroke="#000" stroke-width="0.1">100</text>
<line x1="52.10" y1="669.20" x2="56.10" y2="669.20" stroke="#1a1a1a" stroke-width="2.1" stroke-linecap="butt"/>
<text x="52.30" y="672.80" font-size="10.0" text-anchor="end" font-weight="normal" fill="#000" stroke="#000" stroke-width="0.1">200</text>
<line x1="52.10" y1="632.20" x2="56.10" y2="632.20" stroke="#1a1a1a" stroke-width="2.1" stroke-linecap="butt"/>
<text x="52.30" y="635.80" font-size="10.0" text-anchor="end" font-weight="normal" fill="#000" stroke="#000" stroke-width="0.1">300</text>
<line x1="71.45" y1="743.20" x2="71.45" y2="748.00" stroke="#1a1a1a" stroke-width="2.1" stroke-linecap="butt"/>
<text x="74.95" y="756.90" font-size="10.6" text-anchor="end" font-weight="normal" fill="#000" stroke="#000" stroke-width="0.1" transform="rotate(-45 74.95 756.90)">Control</text>
<line x1="93.55" y1="743.20" x2="93.55" y2="748.00" stroke="#1a1a1a" stroke-width="2.1" stroke-linecap="butt"/>
<text x="97.55" y="754.90" font-size="10.6" text-anchor="end" font-weight="normal" fill="#000" stroke="#000" stroke-width="0.1" transform="rotate(-45 97.55 754.90)">LPS</text>
<line x1="115.65" y1="743.20" x2="115.65" y2="748.00" stroke="#1a1a1a" stroke-width="2.1" stroke-linecap="butt"/>
<text x="120.15" y="754.90" font-size="10.6" text-anchor="end" font-weight="normal" fill="#000" stroke="#000" stroke-width="0.1" transform="rotate(-45 120.15 754.90)">NOB</text>
<text x="28.30" y="694.40" font-size="11" text-anchor="middle" font-weight="normal" fill="#000" stroke="#000" stroke-width="0.1" transform="rotate(-90 28.30 694.40)">TGF- β1 (pg/ml)</text>
</g>
<g id="panelH">
<rect x="250.40" y="650.30" width="149.50" height="24.40" fill="#b3b3b3" stroke="#151515" stroke-width="1.1"/>
<g filter="url(#blurband)">
<rect x="263.5" y="659.1" width="34.0" height="7.4" rx="3.7" fill="#050505" opacity="1"/>
<rect x="310.5" y="662.3" width="28.5" height="4.2" rx="2.1" fill="#0d0d0d" opacity="0.95" transform="rotate(-4 324.8 664.4)"/>
<rect x="355.0" y="659.4" width="31.0" height="6.4" rx="3.2" fill="#0a0a0a" opacity="1"/>
</g>
<rect x="250.40" y="677.60" width="149.50" height="24.30" fill="#b3b3b3" stroke="#151515" stroke-width="1.1"/>
<g filter="url(#blurband)">
<rect x="266.0" y="686.8" width="30.5" height="6.6" rx="3.3" fill="#181818" opacity="0.92"/>
<rect x="311.0" y="689.4" width="26.5" height="4.2" rx="2.1" fill="#4a4a4a" opacity="0.5"/>
<rect x="354.0" y="687.3" width="31.5" height="6.2" rx="3.1" fill="#202020" opacity="0.88"/>
</g>
<rect x="250.40" y="705.10" width="149.50" height="24.50" fill="#b3b3b3" stroke="#151515" stroke-width="1.1"/>
<g filter="url(#blurband)">
<rect x="266.0" y="713.0" width="30.5" height="6.6" rx="3.3" fill="#141414" opacity="0.93"/>
<rect x="311.0" y="714.9" width="26.5" height="4.2" rx="2.1" fill="#4a4a4a" opacity="0.5"/>
<rect x="354.0" y="713.3" width="31.5" height="6.0" rx="3.0" fill="#282828" opacity="0.82"/>
</g>
<rect x="250.40" y="732.50" width="149.50" height="23.30" fill="#b3b3b3" stroke="#151515" stroke-width="1.1"/>
<g filter="url(#blurband)">
<rect x="263.0" y="739.7" width="34.5" height="9.2" rx="4.6" fill="#050505" opacity="1"/>
<rect x="308.5" y="739.7" width="32.0" height="9.2" rx="4.6" fill="#050505" opacity="1"/>
<rect x="353.0" y="739.7" width="34.5" height="9.2" rx="4.6" fill="#050505" opacity="1"/>
</g>
<text x="281.30" y="644.70" font-size="10.6" text-anchor="middle" font-weight="normal" fill="#000" stroke="#000" stroke-width="0.1">Control</text>
<text x="326.00" y="644.70" font-size="10.6" text-anchor="middle" font-weight="normal" fill="#000" stroke="#000" stroke-width="0.1">LPS</text>
<text x="371.70" y="644.70" font-size="10.6" text-anchor="middle" font-weight="normal" fill="#000" stroke="#000" stroke-width="0.1">NOB</text>
<text x="243.20" y="667.70" font-size="10.7" text-anchor="end" font-weight="normal" fill="#000" stroke="#000" stroke-width="0.1">GCLC</text>
<text x="243.20" y="694.20" font-size="10.7" text-anchor="end" font-weight="normal" fill="#000" stroke="#000" stroke-width="0.1">GCLM</text>
<text x="243.20" y="722.40" font-size="10.7" text-anchor="end" font-weight="normal" fill="#000" stroke="#000" stroke-width="0.1">NQO1</text>
<text x="243.20" y="748.00" font-size="10.7" text-anchor="end" font-weight="normal" fill="#000" stroke="#000" stroke-width="0.1">β-actin</text>
<rect x="478.10" y="641.02" width="12.60" height="120.18" fill="#2f6a6b" stroke="#1a1a1a" stroke-width="0.7"/>
<line x1="484.40" y1="637.63" x2="484.40" y2="644.41" stroke="#1a1a1a" stroke-width="0.8" stroke-linecap="butt"/>
<line x1="481.00" y1="637.63" x2="487.80" y2="637.63" stroke="#1a1a1a" stroke-width="0.8" stroke-linecap="butt"/>
<line x1="481.00" y1="644.41" x2="487.80" y2="644.41" stroke="#1a1a1a" stroke-width="0.8" stroke-linecap="butt"/>
<rect x="497.00" y="709.67" width="12.60" height="51.53" fill="#4ba6a6" stroke="#1a1a1a" stroke-width="0.7"/>
<line x1="503.30" y1="706.96" x2="503.30" y2="712.38" stroke="#1a1a1a" stroke-width="0.8" stroke-linecap="butt"/>
<line x1="499.90" y1="706.96" x2="506.70" y2="706.96" stroke="#1a1a1a" stroke-width="0.8" stroke-linecap="butt"/>
<line x1="499.90" y1="712.38" x2="506.70" y2="712.38" stroke="#1a1a1a" stroke-width="0.8" stroke-linecap="butt"/>
<text x="502.50" y="708.26" font-size="21.5" text-anchor="middle" font-weight="normal" fill="#000" stroke="#000" stroke-width="0.1">*</text>
<rect x="516.30" y="682.04" width="12.20" height="79.16" fill="#ecc04f" stroke="#1a1a1a" stroke-width="0.7"/>
<line x1="522.40" y1="678.65" x2="522.40" y2="685.43" stroke="#1a1a1a" stroke-width="0.8" stroke-linecap="butt"/>
<line x1="519.11" y1="678.65" x2="525.69" y2="678.65" stroke="#1a1a1a" stroke-width="0.8" stroke-linecap="butt"/>
<line x1="519.11" y1="685.43" x2="525.69" y2="685.43" stroke="#1a1a1a" stroke-width="0.8" stroke-linecap="butt"/>
<text x="522.40" y="670.95" font-size="15" text-anchor="middle" font-weight="normal" fill="#000" stroke="#000" stroke-width="0.1">#</text>
<rect x="548.20" y="665.43" width="12.60" height="95.77" fill="#2f6a6b" stroke="#1a1a1a" stroke-width="0.7"/>
<line x1="554.50" y1="662.72" x2="554.50" y2="668.14" stroke="#1a1a1a" stroke-width="0.8" stroke-linecap="butt"/>
<line x1="551.10" y1="662.72" x2="557.90" y2="662.72" stroke="#1a1a1a" stroke-width="0.8" stroke-linecap="butt"/>
<line x1="551.10" y1="668.14" x2="557.90" y2="668.14" stroke="#1a1a1a" stroke-width="0.8" stroke-linecap="butt"/>
<rect x="567.50" y="739.84" width="12.70" height="21.36" fill="#4ba6a6" stroke="#1a1a1a" stroke-width="0.7"/>
<line x1="573.85" y1="737.30" x2="573.85" y2="742.39" stroke="#1a1a1a" stroke-width="0.8" stroke-linecap="butt"/>
<line x1="570.42" y1="737.30" x2="577.28" y2="737.30" stroke="#1a1a1a" stroke-width="0.8" stroke-linecap="butt"/>
<line x1="570.42" y1="742.39" x2="577.28" y2="742.39" stroke="#1a1a1a" stroke-width="0.8" stroke-linecap="butt"/>
<text x="573.05" y="738.60" font-size="21.5" text-anchor="middle" font-weight="normal" fill="#000" stroke="#000" stroke-width="0.1">*</text>
<rect x="586.50" y="692.21" width="12.60" height="68.99" fill="#ecc04f" stroke="#1a1a1a" stroke-width="0.7"/>
<line x1="592.80" y1="688.82" x2="592.80" y2="695.60" stroke="#1a1a1a" stroke-width="0.8" stroke-linecap="butt"/>
<line x1="589.40" y1="688.82" x2="596.20" y2="688.82" stroke="#1a1a1a" stroke-width="0.8" stroke-linecap="butt"/>
<line x1="589.40" y1="695.60" x2="596.20" y2="695.60" stroke="#1a1a1a" stroke-width="0.8" stroke-linecap="butt"/>
<text x="592.80" y="681.12" font-size="15" text-anchor="middle" font-weight="normal" fill="#000" stroke="#000" stroke-width="0.1">#</text>
<rect x="618.40" y="684.08" width="12.60" height="77.12" fill="#2f6a6b" stroke="#1a1a1a" stroke-width="0.7"/>
<line x1="624.70" y1="681.70" x2="624.70" y2="686.45" stroke="#1a1a1a" stroke-width="0.8" stroke-linecap="butt"/>
<line x1="621.30" y1="681.70" x2="628.10" y2="681.70" stroke="#1a1a1a" stroke-width="0.8" stroke-linecap="butt"/>
<line x1="621.30" y1="686.45" x2="628.10" y2="686.45" stroke="#1a1a1a" stroke-width="0.8" stroke-linecap="butt"/>
<rect x="637.70" y="738.32" width="12.20" height="22.88" fill="#4ba6a6" stroke="#1a1a1a" stroke-width="0.7"/>
<line x1="643.80" y1="735.77" x2="643.80" y2="740.86" stroke="#1a1a1a" stroke-width="0.8" stroke-linecap="butt"/>
<line x1="640.51" y1="735.77" x2="647.09" y2="735.77" stroke="#1a1a1a" stroke-width="0.8" stroke-linecap="butt"/>
<line x1="640.51" y1="740.86" x2="647.09" y2="740.86" stroke="#1a1a1a" stroke-width="0.8" stroke-linecap="butt"/>
<text x="643.00" y="737.07" font-size="21.5" text-anchor="middle" font-weight="normal" fill="#000" stroke="#000" stroke-width="0.1">*</text>
<rect x="656.60" y="711.54" width="12.60" height="49.66" fill="#ecc04f" stroke="#1a1a1a" stroke-width="0.7"/>
<line x1="662.90" y1="709.16" x2="662.90" y2="713.91" stroke="#1a1a1a" stroke-width="0.8" stroke-linecap="butt"/>
<line x1="659.50" y1="709.16" x2="666.30" y2="709.16" stroke="#1a1a1a" stroke-width="0.8" stroke-linecap="butt"/>
<line x1="659.50" y1="713.91" x2="666.30" y2="713.91" stroke="#1a1a1a" stroke-width="0.8" stroke-linecap="butt"/>
<text x="662.90" y="701.46" font-size="15" text-anchor="middle" font-weight="normal" fill="#000" stroke="#000" stroke-width="0.1">#</text>
<line x1="472.30" y1="624.95" x2="472.30" y2="761.85" stroke="#1a1a1a" stroke-width="1.3" stroke-linecap="butt"/>
<line x1="471.65" y1="761.20" x2="677.10" y2="761.20" stroke="#1a1a1a" stroke-width="1.3" stroke-linecap="butt"/>
<line x1="466.00" y1="761.20" x2="472.30" y2="761.20" stroke="#1a1a1a" stroke-width="1.3" stroke-linecap="butt"/>
<text x="463.00" y="764.94" font-size="10.4" text-anchor="end" font-weight="normal" fill="#000" stroke="#000" stroke-width="0.1">0.0</text>
<line x1="466.00" y1="727.30" x2="472.30" y2="727.30" stroke="#1a1a1a" stroke-width="1.3" stroke-linecap="butt"/>
<text x="463.00" y="731.04" font-size="10.4" text-anchor="end" font-weight="normal" fill="#000" stroke="#000" stroke-width="0.1">0.2</text>
<line x1="466.00" y1="693.40" x2="472.30" y2="693.40" stroke="#1a1a1a" stroke-width="1.3" stroke-linecap="butt"/>
<text x="463.00" y="697.14" font-size="10.4" text-anchor="end" font-weight="normal" fill="#000" stroke="#000" stroke-width="0.1">0.4</text>
<line x1="466.00" y1="659.50" x2="472.30" y2="659.50" stroke="#1a1a1a" stroke-width="1.3" stroke-linecap="butt"/>
<text x="463.00" y="663.24" font-size="10.4" text-anchor="end" font-weight="normal" fill="#000" stroke="#000" stroke-width="0.1">0.6</text>
<line x1="466.00" y1="625.60" x2="472.30" y2="625.60" stroke="#1a1a1a" stroke-width="1.3" stroke-linecap="butt"/>
<text x="463.00" y="629.34" font-size="10.4" text-anchor="end" font-weight="normal" fill="#000" stroke="#000" stroke-width="0.1">0.8</text>
<text x="434.80" y="690.70" font-size="10.4" text-anchor="middle" font-weight="normal" fill="#000" stroke="#000" stroke-width="0.1" transform="rotate(-90 434.80 690.70)">Proteins / β-actin</text>
<line x1="503.30" y1="761.20" x2="503.30" y2="766.50" stroke="#1a1a1a" stroke-width="1.3" stroke-linecap="butt"/>
<text x="503.30" y="777.60" font-size="10.4" text-anchor="middle" font-weight="normal" fill="#000" stroke="#000" stroke-width="0.1">GCLC</text>
<line x1="573.50" y1="761.20" x2="573.50" y2="766.50" stroke="#1a1a1a" stroke-width="1.3" stroke-linecap="butt"/>
<text x="573.50" y="777.60" font-size="10.4" text-anchor="middle" font-weight="normal" fill="#000" stroke="#000" stroke-width="0.1">GCLM</text>
<line x1="644.00" y1="761.20" x2="644.00" y2="766.50" stroke="#1a1a1a" stroke-width="1.3" stroke-linecap="butt"/>
<text x="644.00" y="777.60" font-size="10.4" text-anchor="middle" font-weight="normal" fill="#000" stroke="#000" stroke-width="0.1">NQO1</text>
<rect x="619.60" y="612.10" width="14.00" height="6.60" fill="#2f6a6b" stroke="#1a1a1a" stroke-width="0.7"/>
<text x="642.70" y="618.70" font-size="10.2" text-anchor="start" font-weight="normal" fill="#000" stroke="#000" stroke-width="0.1">Control</text>
<rect x="619.60" y="630.10" width="14.00" height="6.60" fill="#4ba6a6" stroke="#1a1a1a" stroke-width="0.7"/>
<text x="642.70" y="636.70" font-size="10.2" text-anchor="start" font-weight="normal" fill="#000" stroke="#000" stroke-width="0.1">LPS</text>
<rect x="619.60" y="648.60" width="14.00" height="6.60" fill="#ecc04f" stroke="#1a1a1a" stroke-width="0.7"/>
<text x="642.70" y="655.20" font-size="10.2" text-anchor="start" font-weight="normal" fill="#000" stroke="#000" stroke-width="0.1">NOB</text>
</g>
</svg>
</body>
</html>
